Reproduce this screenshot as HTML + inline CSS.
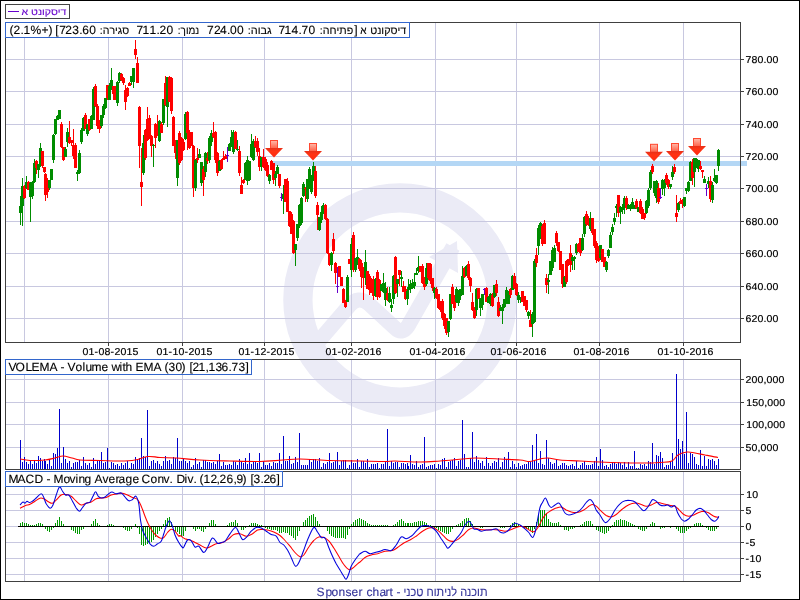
<!DOCTYPE html><html><head><meta charset="utf-8"><title>chart</title><style>
html,body{margin:0;padding:0;background:#fff;}body{width:800px;height:600px;overflow:hidden;position:relative;font-family:"Liberation Sans",sans-serif;}
svg{position:absolute;left:0;top:0;will-change:transform;}svg text{font-family:"Liberation Sans",sans-serif;font-kerning:none;text-rendering:geometricPrecision;}
.tb{position:absolute;box-sizing:border-box;border:1px solid #3366cc;background:#fff;font-size:12px;line-height:14px;white-space:nowrap;color:#000;overflow:hidden;}
</style></head><body>
<svg width="800" height="600" viewBox="0 0 800 600">
<rect x="0" y="0" width="800" height="600" fill="#fff"/>
<g fill="none" stroke="#ebebf6">
<circle cx="400" cy="300" r="102.1" stroke-width="29.3"/>
<path d="M318,342 L349,306 Q358,295 369,304 L395,328 Q402,335 408,326 L453,247" stroke-width="15" stroke-linejoin="round" stroke-linecap="butt"/>
<path d="M457,241 L458,273 L429,257 Z" fill="#ebebf6" stroke="none"/>
</g>
<g shape-rendering="crispEdges">
<rect x="24" y="22" width="1" height="320" fill="#c8c8e0"/>
<rect x="108" y="22" width="1" height="320" fill="#c8c8e0"/>
<rect x="182" y="22" width="1" height="320" fill="#c8c8e0"/>
<rect x="264" y="22" width="1" height="320" fill="#c8c8e0"/>
<rect x="351" y="22" width="1" height="320" fill="#c8c8e0"/>
<rect x="435" y="22" width="1" height="320" fill="#c8c8e0"/>
<rect x="516" y="22" width="1" height="320" fill="#c8c8e0"/>
<rect x="599" y="22" width="1" height="320" fill="#c8c8e0"/>
<rect x="683" y="22" width="1" height="320" fill="#c8c8e0"/>
<rect x="5" y="59" width="735" height="1" fill="#c8c8e0"/>
<rect x="5" y="91" width="735" height="1" fill="#c8c8e0"/>
<rect x="5" y="124" width="735" height="1" fill="#c8c8e0"/>
<rect x="5" y="156" width="735" height="1" fill="#c8c8e0"/>
<rect x="5" y="188" width="735" height="1" fill="#c8c8e0"/>
<rect x="5" y="221" width="735" height="1" fill="#c8c8e0"/>
<rect x="5" y="253" width="735" height="1" fill="#c8c8e0"/>
<rect x="5" y="286" width="735" height="1" fill="#c8c8e0"/>
<rect x="5" y="318" width="735" height="1" fill="#c8c8e0"/>
</g>
<g shape-rendering="crispEdges">
<rect x="24" y="359" width="1" height="110" fill="#c8c8e0"/>
<rect x="108" y="359" width="1" height="110" fill="#c8c8e0"/>
<rect x="182" y="359" width="1" height="110" fill="#c8c8e0"/>
<rect x="264" y="359" width="1" height="110" fill="#c8c8e0"/>
<rect x="351" y="359" width="1" height="110" fill="#c8c8e0"/>
<rect x="435" y="359" width="1" height="110" fill="#c8c8e0"/>
<rect x="516" y="359" width="1" height="110" fill="#c8c8e0"/>
<rect x="599" y="359" width="1" height="110" fill="#c8c8e0"/>
<rect x="683" y="359" width="1" height="110" fill="#c8c8e0"/>
<rect x="5" y="379" width="735" height="1" fill="#c8c8e0"/>
<rect x="5" y="402" width="735" height="1" fill="#c8c8e0"/>
<rect x="5" y="424" width="735" height="1" fill="#c8c8e0"/>
<rect x="5" y="447" width="735" height="1" fill="#c8c8e0"/>
</g>
<g shape-rendering="crispEdges">
<rect x="24" y="471" width="1" height="110" fill="#c8c8e0"/>
<rect x="108" y="471" width="1" height="110" fill="#c8c8e0"/>
<rect x="182" y="471" width="1" height="110" fill="#c8c8e0"/>
<rect x="264" y="471" width="1" height="110" fill="#c8c8e0"/>
<rect x="351" y="471" width="1" height="110" fill="#c8c8e0"/>
<rect x="435" y="471" width="1" height="110" fill="#c8c8e0"/>
<rect x="516" y="471" width="1" height="110" fill="#c8c8e0"/>
<rect x="599" y="471" width="1" height="110" fill="#c8c8e0"/>
<rect x="683" y="471" width="1" height="110" fill="#c8c8e0"/>
<rect x="5" y="494" width="735" height="1" fill="#c8c8e0"/>
<rect x="5" y="510" width="735" height="1" fill="#c8c8e0"/>
<rect x="5" y="526" width="735" height="1" fill="#c8c8e0"/>
<rect x="5" y="542" width="735" height="1" fill="#c8c8e0"/>
<rect x="5" y="558" width="735" height="1" fill="#c8c8e0"/>
<rect x="5" y="574" width="735" height="1" fill="#c8c8e0"/>
</g>
<rect x="270" y="161" width="477" height="5" fill="#b4d7f5" shape-rendering="crispEdges"/>
<g shape-rendering="crispEdges">
<rect x="20" y="196.0" width="1" height="29.0" fill="#008c00"/>
<rect x="19" y="206.0" width="3" height="7.0" fill="#008c00"/>
<rect x="22" y="178.0" width="1" height="48.0" fill="#008c00"/>
<rect x="21" y="185.6" width="3" height="20.4" fill="#008c00"/>
<rect x="24" y="185.0" width="1" height="14.0" fill="#ff0000"/>
<rect x="23" y="186.0" width="3" height="12.0" fill="#ff0000"/>
<rect x="26" y="176.0" width="1" height="13.0" fill="#008c00"/>
<rect x="25" y="182.0" width="3" height="6.0" fill="#008c00"/>
<rect x="28" y="181.0" width="1" height="9.0" fill="#ff0000"/>
<rect x="27" y="182.0" width="3" height="8.0" fill="#ff0000"/>
<rect x="30" y="182.0" width="1" height="40.0" fill="#008c00"/>
<rect x="29" y="183.0" width="3" height="14.0" fill="#008c00"/>
<rect x="32" y="181.0" width="1" height="18.0" fill="#008c00"/>
<rect x="31" y="182.0" width="3" height="14.0" fill="#008c00"/>
<rect x="34" y="159.0" width="1" height="24.0" fill="#008c00"/>
<rect x="33" y="163.0" width="3" height="19.0" fill="#008c00"/>
<rect x="36" y="160.0" width="1" height="14.0" fill="#ff0000"/>
<rect x="35" y="161.0" width="3" height="7.0" fill="#ff0000"/>
<rect x="38" y="164.0" width="1" height="14.0" fill="#008c00"/>
<rect x="37" y="164.0" width="3" height="6.0" fill="#008c00"/>
<rect x="40" y="143.0" width="1" height="24.0" fill="#008c00"/>
<rect x="39" y="148.0" width="3" height="18.0" fill="#008c00"/>
<rect x="42" y="151.0" width="1" height="17.0" fill="#ff0000"/>
<rect x="41" y="151.0" width="3" height="15.0" fill="#ff0000"/>
<rect x="44" y="167.0" width="1" height="6.0" fill="#ff0000"/>
<rect x="43" y="167.0" width="3" height="5.0" fill="#ff0000"/>
<rect x="45" y="173.0" width="1" height="28.0" fill="#ff0000"/>
<rect x="44" y="174.0" width="3" height="21.0" fill="#ff0000"/>
<rect x="47" y="178.0" width="1" height="20.0" fill="#ff0000"/>
<rect x="46" y="180.0" width="3" height="12.0" fill="#ff0000"/>
<rect x="49" y="180.0" width="1" height="10.0" fill="#008c00"/>
<rect x="48" y="180.0" width="3" height="8.0" fill="#008c00"/>
<rect x="51" y="169.0" width="1" height="11.0" fill="#008c00"/>
<rect x="50" y="169.0" width="3" height="11.0" fill="#008c00"/>
<rect x="53" y="134.0" width="1" height="29.0" fill="#008c00"/>
<rect x="52" y="135.0" width="3" height="25.0" fill="#008c00"/>
<rect x="55" y="119.0" width="1" height="16.0" fill="#008c00"/>
<rect x="54" y="119.0" width="3" height="15.0" fill="#008c00"/>
<rect x="57" y="115.0" width="1" height="5.0" fill="#008c00"/>
<rect x="56" y="116.0" width="3" height="4.0" fill="#008c00"/>
<rect x="59" y="110.0" width="1" height="9.0" fill="#008c00"/>
<rect x="58" y="110.0" width="3" height="9.0" fill="#008c00"/>
<rect x="61" y="122.0" width="1" height="26.0" fill="#ff0000"/>
<rect x="60" y="124.0" width="3" height="23.0" fill="#ff0000"/>
<rect x="63" y="147.0" width="1" height="14.0" fill="#ff0000"/>
<rect x="62" y="147.0" width="3" height="13.0" fill="#ff0000"/>
<rect x="65" y="147.0" width="1" height="10.0" fill="#008c00"/>
<rect x="64" y="149.0" width="3" height="8.0" fill="#008c00"/>
<rect x="67" y="128.0" width="1" height="19.0" fill="#008c00"/>
<rect x="66" y="132.0" width="3" height="10.0" fill="#008c00"/>
<rect x="69" y="121.0" width="1" height="23.0" fill="#ff0000"/>
<rect x="68" y="137.0" width="3" height="6.0" fill="#ff0000"/>
<rect x="71" y="140.0" width="1" height="6.0" fill="#ff0000"/>
<rect x="70" y="140.0" width="3" height="3.0" fill="#ff0000"/>
<rect x="73" y="129.0" width="1" height="30.0" fill="#ff0000"/>
<rect x="72" y="145.0" width="3" height="11.0" fill="#ff0000"/>
<rect x="75" y="143.0" width="1" height="25.0" fill="#ff0000"/>
<rect x="74" y="145.0" width="3" height="23.0" fill="#ff0000"/>
<rect x="77" y="170.0" width="1" height="11.0" fill="#008c00"/>
<rect x="76" y="172.0" width="3" height="2.0" fill="#008c00"/>
<rect x="79" y="150.0" width="1" height="24.0" fill="#008c00"/>
<rect x="78" y="153.0" width="3" height="20.0" fill="#008c00"/>
<rect x="81" y="128.0" width="1" height="16.0" fill="#008c00"/>
<rect x="80" y="130.0" width="3" height="12.0" fill="#008c00"/>
<rect x="83" y="117.0" width="1" height="14.0" fill="#008c00"/>
<rect x="82" y="118.0" width="3" height="13.0" fill="#008c00"/>
<rect x="85" y="113.0" width="1" height="16.0" fill="#ff0000"/>
<rect x="84" y="115.0" width="3" height="14.0" fill="#ff0000"/>
<rect x="87" y="124.0" width="1" height="12.0" fill="#008c00"/>
<rect x="86" y="124.0" width="3" height="10.0" fill="#008c00"/>
<rect x="89" y="119.0" width="1" height="12.0" fill="#ff0000"/>
<rect x="88" y="119.0" width="3" height="11.0" fill="#ff0000"/>
<rect x="91" y="115.0" width="1" height="14.0" fill="#008c00"/>
<rect x="90" y="116.0" width="3" height="13.0" fill="#008c00"/>
<rect x="93" y="87.0" width="1" height="33.0" fill="#008c00"/>
<rect x="92" y="89.0" width="3" height="31.0" fill="#008c00"/>
<rect x="95" y="84.0" width="1" height="23.0" fill="#ff0000"/>
<rect x="94" y="86.0" width="3" height="20.0" fill="#ff0000"/>
<rect x="97" y="104.0" width="1" height="25.0" fill="#ff0000"/>
<rect x="96" y="106.0" width="3" height="20.0" fill="#ff0000"/>
<rect x="99" y="120.0" width="1" height="13.0" fill="#ff0000"/>
<rect x="98" y="120.0" width="3" height="9.0" fill="#ff0000"/>
<rect x="101" y="115.0" width="1" height="13.0" fill="#008c00"/>
<rect x="100" y="115.0" width="3" height="11.0" fill="#008c00"/>
<rect x="103" y="104.0" width="1" height="14.0" fill="#008c00"/>
<rect x="102" y="106.0" width="3" height="9.0" fill="#008c00"/>
<rect x="105" y="98.0" width="1" height="11.0" fill="#008c00"/>
<rect x="104" y="98.0" width="3" height="10.0" fill="#008c00"/>
<rect x="107" y="85.0" width="1" height="15.0" fill="#ff0000"/>
<rect x="106" y="85.0" width="3" height="13.0" fill="#ff0000"/>
<rect x="109" y="83.0" width="1" height="17.0" fill="#008c00"/>
<rect x="108" y="86.0" width="3" height="14.0" fill="#008c00"/>
<rect x="111" y="68.0" width="1" height="22.0" fill="#008c00"/>
<rect x="110" y="80.0" width="3" height="8.0" fill="#008c00"/>
<rect x="113" y="86.0" width="1" height="14.0" fill="#ff0000"/>
<rect x="112" y="86.0" width="3" height="8.0" fill="#ff0000"/>
<rect x="115" y="86.0" width="1" height="14.0" fill="#ff0000"/>
<rect x="114" y="88.0" width="3" height="12.0" fill="#ff0000"/>
<rect x="117" y="81.0" width="1" height="25.0" fill="#008c00"/>
<rect x="116" y="82.0" width="3" height="21.0" fill="#008c00"/>
<rect x="119" y="71.6" width="1" height="11.4" fill="#008c00"/>
<rect x="118" y="73.0" width="3" height="8.0" fill="#008c00"/>
<rect x="121" y="73.0" width="1" height="8.0" fill="#ff0000"/>
<rect x="120" y="74.0" width="3" height="6.0" fill="#ff0000"/>
<rect x="123" y="77.0" width="1" height="8.0" fill="#ff0000"/>
<rect x="122" y="78.0" width="3" height="5.0" fill="#ff0000"/>
<rect x="125" y="85.0" width="1" height="25.0" fill="#ff0000"/>
<rect x="124" y="90.0" width="3" height="12.0" fill="#ff0000"/>
<rect x="127" y="87.0" width="1" height="10.0" fill="#ff0000"/>
<rect x="126" y="88.0" width="3" height="8.0" fill="#ff0000"/>
<rect x="129" y="82.0" width="1" height="4.0" fill="#ff0000"/>
<rect x="128" y="83.0" width="3" height="3.0" fill="#ff0000"/>
<rect x="131" y="76.0" width="1" height="9.0" fill="#008c00"/>
<rect x="130" y="76.0" width="3" height="6.0" fill="#008c00"/>
<rect x="133" y="68.0" width="1" height="19.6" fill="#008c00"/>
<rect x="132" y="68.0" width="3" height="14.0" fill="#008c00"/>
<rect x="135" y="40.0" width="1" height="19.0" fill="#ff0000"/>
<rect x="134" y="49.0" width="3" height="6.0" fill="#ff0000"/>
<rect x="137" y="57.0" width="1" height="26.0" fill="#ff0000"/>
<rect x="136" y="63.0" width="3" height="20.0" fill="#ff0000"/>
<rect x="139" y="106.0" width="1" height="62.0" fill="#ff0000"/>
<rect x="138" y="107.0" width="3" height="39.0" fill="#ff0000"/>
<rect x="141" y="148.0" width="1" height="58.0" fill="#ff0000"/>
<rect x="140" y="182.0" width="3" height="5.0" fill="#ff0000"/>
<rect x="143" y="135.0" width="1" height="40.0" fill="#008c00"/>
<rect x="142" y="143.0" width="3" height="30.0" fill="#008c00"/>
<rect x="145" y="128.5" width="1" height="31.5" fill="#ff0000"/>
<rect x="144" y="129.5" width="3" height="28.5" fill="#ff0000"/>
<rect x="147" y="107.0" width="1" height="34.0" fill="#ff0000"/>
<rect x="146" y="119.0" width="3" height="21.0" fill="#ff0000"/>
<rect x="149" y="115.0" width="1" height="24.0" fill="#ff0000"/>
<rect x="148" y="118.0" width="3" height="20.0" fill="#ff0000"/>
<rect x="151" y="135.0" width="1" height="22.0" fill="#ff0000"/>
<rect x="150" y="136.0" width="3" height="10.0" fill="#ff0000"/>
<rect x="153" y="144.0" width="1" height="23.0" fill="#008c00"/>
<rect x="152" y="145.0" width="3" height="1.0" fill="#008c00"/>
<rect x="155" y="123.0" width="1" height="25.0" fill="#ff0000"/>
<rect x="154" y="124.0" width="3" height="14.0" fill="#ff0000"/>
<rect x="157" y="115.0" width="1" height="21.0" fill="#ff0000"/>
<rect x="156" y="126.0" width="3" height="7.0" fill="#ff0000"/>
<rect x="159" y="120.0" width="1" height="22.0" fill="#008c00"/>
<rect x="158" y="121.0" width="3" height="20.0" fill="#008c00"/>
<rect x="161" y="122.0" width="1" height="11.0" fill="#ff0000"/>
<rect x="160" y="124.0" width="3" height="9.0" fill="#ff0000"/>
<rect x="163" y="99.0" width="1" height="26.0" fill="#008c00"/>
<rect x="162" y="99.0" width="3" height="24.0" fill="#008c00"/>
<rect x="165" y="75.6" width="1" height="30.4" fill="#ff0000"/>
<rect x="164" y="83.0" width="3" height="22.0" fill="#ff0000"/>
<rect x="167" y="77.0" width="1" height="50.0" fill="#008c00"/>
<rect x="166" y="77.0" width="3" height="30.0" fill="#008c00"/>
<rect x="169" y="76.0" width="1" height="26.0" fill="#ff0000"/>
<rect x="168" y="77.0" width="3" height="25.0" fill="#ff0000"/>
<rect x="171" y="77.0" width="1" height="36.6" fill="#ff0000"/>
<rect x="170" y="78.0" width="3" height="33.0" fill="#ff0000"/>
<rect x="173" y="116.0" width="1" height="30.0" fill="#ff0000"/>
<rect x="172" y="117.0" width="3" height="29.0" fill="#ff0000"/>
<rect x="175" y="140.0" width="1" height="19.0" fill="#ff0000"/>
<rect x="174" y="143.0" width="3" height="10.0" fill="#ff0000"/>
<rect x="177" y="140.0" width="1" height="45.6" fill="#008c00"/>
<rect x="176" y="140.0" width="3" height="38.0" fill="#008c00"/>
<rect x="179" y="131.0" width="1" height="34.0" fill="#ff0000"/>
<rect x="178" y="133.0" width="3" height="30.0" fill="#ff0000"/>
<rect x="181" y="137.0" width="1" height="24.0" fill="#ff0000"/>
<rect x="180" y="138.0" width="3" height="22.0" fill="#ff0000"/>
<rect x="183" y="139.0" width="1" height="12.0" fill="#ff0000"/>
<rect x="182" y="142.0" width="3" height="8.0" fill="#ff0000"/>
<rect x="185" y="112.0" width="1" height="28.0" fill="#008c00"/>
<rect x="184" y="114.0" width="3" height="25.0" fill="#008c00"/>
<rect x="187" y="110.6" width="1" height="39.4" fill="#ff0000"/>
<rect x="186" y="112.0" width="3" height="21.0" fill="#ff0000"/>
<rect x="189" y="130.0" width="1" height="19.0" fill="#ff0000"/>
<rect x="188" y="132.0" width="3" height="16.0" fill="#ff0000"/>
<rect x="191" y="132.0" width="1" height="14.0" fill="#ff0000"/>
<rect x="190" y="132.0" width="3" height="14.0" fill="#ff0000"/>
<rect x="193" y="145.0" width="1" height="52.0" fill="#ff0000"/>
<rect x="192" y="146.0" width="3" height="42.0" fill="#ff0000"/>
<rect x="195" y="159.0" width="1" height="32.0" fill="#008c00"/>
<rect x="194" y="160.0" width="3" height="28.0" fill="#008c00"/>
<rect x="197" y="148.0" width="1" height="15.0" fill="#ff0000"/>
<rect x="196" y="158.0" width="3" height="2.0" fill="#ff0000"/>
<rect x="199" y="149.0" width="1" height="9.0" fill="#008c00"/>
<rect x="198" y="154.0" width="3" height="4.0" fill="#008c00"/>
<rect x="201" y="162.0" width="1" height="24.0" fill="#008c00"/>
<rect x="200" y="162.0" width="3" height="21.0" fill="#008c00"/>
<rect x="203" y="166.0" width="1" height="30.0" fill="#ff0000"/>
<rect x="202" y="169.0" width="3" height="11.0" fill="#ff0000"/>
<rect x="205" y="152.0" width="1" height="25.0" fill="#008c00"/>
<rect x="204" y="153.0" width="3" height="19.0" fill="#008c00"/>
<rect x="207" y="152.0" width="1" height="12.0" fill="#ff0000"/>
<rect x="206" y="158.0" width="3" height="3.0" fill="#ff0000"/>
<rect x="209" y="135.5" width="1" height="27.0" fill="#008c00"/>
<rect x="208" y="137.5" width="3" height="22.0" fill="#008c00"/>
<rect x="211" y="130.0" width="1" height="16.0" fill="#008c00"/>
<rect x="210" y="133.0" width="3" height="9.0" fill="#008c00"/>
<rect x="213" y="122.0" width="1" height="16.0" fill="#ff0000"/>
<rect x="212" y="133.0" width="3" height="4.0" fill="#ff0000"/>
<rect x="215" y="131.0" width="1" height="32.0" fill="#ff0000"/>
<rect x="214" y="132.0" width="3" height="28.0" fill="#ff0000"/>
<rect x="217" y="152.0" width="1" height="24.0" fill="#ff0000"/>
<rect x="216" y="153.0" width="3" height="20.0" fill="#ff0000"/>
<rect x="219" y="160.0" width="1" height="11.0" fill="#008c00"/>
<rect x="218" y="161.0" width="3" height="10.0" fill="#008c00"/>
<rect x="221" y="159.0" width="1" height="11.0" fill="#ff0000"/>
<rect x="220" y="160.0" width="3" height="9.0" fill="#ff0000"/>
<rect x="223" y="151.0" width="1" height="9.0" fill="#ff0000"/>
<rect x="222" y="158.0" width="3" height="2.0" fill="#ff0000"/>
<rect x="225" y="153.5" width="1" height="5.5" fill="#ff0000"/>
<rect x="224" y="155.5" width="3" height="3.5" fill="#ff0000"/>
<rect x="227" y="147.0" width="1" height="15.0" fill="#6600cc"/>
<rect x="226" y="155.0" width="3" height="1" fill="#6600cc"/>
<rect x="229" y="143.0" width="1" height="8.0" fill="#008c00"/>
<rect x="228" y="144.0" width="3" height="7.0" fill="#008c00"/>
<rect x="231" y="130.0" width="1" height="17.0" fill="#008c00"/>
<rect x="230" y="137.0" width="3" height="10.0" fill="#008c00"/>
<rect x="233" y="130.0" width="1" height="24.0" fill="#008c00"/>
<rect x="232" y="132.0" width="3" height="20.0" fill="#008c00"/>
<rect x="235" y="131.0" width="1" height="18.0" fill="#ff0000"/>
<rect x="234" y="132.0" width="3" height="17.0" fill="#ff0000"/>
<rect x="237" y="140.0" width="1" height="11.0" fill="#008c00"/>
<rect x="236" y="149.0" width="3" height="1.0" fill="#008c00"/>
<rect x="239" y="146.0" width="1" height="30.0" fill="#ff0000"/>
<rect x="238" y="151.0" width="3" height="22.0" fill="#ff0000"/>
<rect x="241" y="177.0" width="1" height="17.0" fill="#ff0000"/>
<rect x="240" y="185.0" width="3" height="9.0" fill="#ff0000"/>
<rect x="243" y="179.0" width="1" height="5.0" fill="#ff0000"/>
<rect x="242" y="180.0" width="3" height="3.0" fill="#ff0000"/>
<rect x="245" y="162.0" width="1" height="18.0" fill="#008c00"/>
<rect x="244" y="163.0" width="3" height="17.0" fill="#008c00"/>
<rect x="247" y="156.0" width="1" height="29.0" fill="#008c00"/>
<rect x="246" y="160.0" width="3" height="21.0" fill="#008c00"/>
<rect x="249" y="161.0" width="1" height="20.0" fill="#008c00"/>
<rect x="248" y="161.0" width="3" height="19.0" fill="#008c00"/>
<rect x="251" y="134.0" width="1" height="24.0" fill="#008c00"/>
<rect x="250" y="144.0" width="3" height="13.0" fill="#008c00"/>
<rect x="253" y="139.0" width="1" height="22.0" fill="#008c00"/>
<rect x="252" y="141.0" width="3" height="19.0" fill="#008c00"/>
<rect x="255" y="136.0" width="1" height="12.0" fill="#ff0000"/>
<rect x="254" y="141.0" width="3" height="6.0" fill="#ff0000"/>
<rect x="257" y="138.0" width="1" height="18.0" fill="#ff0000"/>
<rect x="256" y="141.0" width="3" height="11.0" fill="#ff0000"/>
<rect x="259" y="148.0" width="1" height="23.0" fill="#ff0000"/>
<rect x="258" y="156.0" width="3" height="11.0" fill="#ff0000"/>
<rect x="261" y="157.0" width="1" height="14.0" fill="#008c00"/>
<rect x="260" y="157.0" width="3" height="10.0" fill="#008c00"/>
<rect x="263" y="149.0" width="1" height="19.0" fill="#ff0000"/>
<rect x="262" y="157.0" width="3" height="10.0" fill="#ff0000"/>
<rect x="265" y="157.0" width="1" height="14.0" fill="#ff0000"/>
<rect x="264" y="159.0" width="3" height="11.0" fill="#ff0000"/>
<rect x="267" y="162.0" width="1" height="15.0" fill="#ff0000"/>
<rect x="266" y="165.0" width="3" height="11.0" fill="#ff0000"/>
<rect x="269" y="174.0" width="1" height="10.0" fill="#008c00"/>
<rect x="268" y="175.0" width="3" height="6.0" fill="#008c00"/>
<rect x="271" y="160.0" width="1" height="10.0" fill="#ff0000"/>
<rect x="270" y="161.0" width="3" height="9.0" fill="#ff0000"/>
<rect x="273" y="163.0" width="1" height="21.0" fill="#ff0000"/>
<rect x="272" y="163.0" width="3" height="17.0" fill="#ff0000"/>
<rect x="275" y="171.0" width="1" height="15.0" fill="#008c00"/>
<rect x="274" y="174.0" width="3" height="4.0" fill="#008c00"/>
<rect x="277" y="165.0" width="1" height="9.0" fill="#008c00"/>
<rect x="276" y="167.0" width="3" height="7.0" fill="#008c00"/>
<rect x="279" y="174.0" width="1" height="14.0" fill="#ff0000"/>
<rect x="278" y="174.0" width="3" height="12.0" fill="#ff0000"/>
<rect x="281" y="193.0" width="1" height="8.0" fill="#6600cc"/>
<rect x="280" y="197.0" width="3" height="1" fill="#6600cc"/>
<rect x="283" y="185.0" width="1" height="29.0" fill="#008c00"/>
<rect x="282" y="194.0" width="3" height="5.0" fill="#008c00"/>
<rect x="285" y="179.0" width="1" height="23.0" fill="#ff0000"/>
<rect x="284" y="179.0" width="3" height="23.0" fill="#ff0000"/>
<rect x="287" y="178.0" width="1" height="34.0" fill="#ff0000"/>
<rect x="286" y="181.0" width="3" height="31.0" fill="#ff0000"/>
<rect x="289" y="211.0" width="1" height="16.0" fill="#ff0000"/>
<rect x="288" y="211.0" width="3" height="15.0" fill="#ff0000"/>
<rect x="291" y="212.0" width="1" height="22.0" fill="#ff0000"/>
<rect x="290" y="214.0" width="3" height="20.0" fill="#ff0000"/>
<rect x="293" y="220.0" width="1" height="34.0" fill="#ff0000"/>
<rect x="292" y="221.0" width="3" height="32.0" fill="#ff0000"/>
<rect x="295" y="244.0" width="1" height="21.6" fill="#008c00"/>
<rect x="294" y="244.0" width="3" height="6.0" fill="#008c00"/>
<rect x="297" y="224.0" width="1" height="17.0" fill="#008c00"/>
<rect x="296" y="224.0" width="3" height="14.0" fill="#008c00"/>
<rect x="299" y="204.0" width="1" height="24.0" fill="#008c00"/>
<rect x="298" y="205.0" width="3" height="21.0" fill="#008c00"/>
<rect x="301" y="197.0" width="1" height="28.0" fill="#008c00"/>
<rect x="300" y="198.0" width="3" height="25.0" fill="#008c00"/>
<rect x="303" y="182.0" width="1" height="15.0" fill="#008c00"/>
<rect x="302" y="184.0" width="3" height="12.0" fill="#008c00"/>
<rect x="305" y="187.0" width="1" height="15.0" fill="#ff0000"/>
<rect x="304" y="188.0" width="3" height="1.0" fill="#ff0000"/>
<rect x="307" y="179.0" width="1" height="23.0" fill="#008c00"/>
<rect x="306" y="179.0" width="3" height="20.0" fill="#008c00"/>
<rect x="309" y="167.0" width="1" height="22.0" fill="#008c00"/>
<rect x="308" y="169.0" width="3" height="18.0" fill="#008c00"/>
<rect x="311" y="175.0" width="1" height="19.0" fill="#008c00"/>
<rect x="310" y="178.0" width="3" height="14.0" fill="#008c00"/>
<rect x="313" y="162.0" width="1" height="19.0" fill="#008c00"/>
<rect x="312" y="166.0" width="3" height="12.0" fill="#008c00"/>
<rect x="315" y="166.0" width="1" height="32.0" fill="#ff0000"/>
<rect x="314" y="171.0" width="3" height="25.0" fill="#ff0000"/>
<rect x="317" y="202.0" width="1" height="28.0" fill="#ff0000"/>
<rect x="316" y="205.0" width="3" height="10.0" fill="#ff0000"/>
<rect x="319" y="217.0" width="1" height="14.0" fill="#008c00"/>
<rect x="318" y="217.0" width="3" height="13.0" fill="#008c00"/>
<rect x="321" y="206.0" width="1" height="17.0" fill="#008c00"/>
<rect x="320" y="212.0" width="3" height="8.0" fill="#008c00"/>
<rect x="323" y="203.0" width="1" height="11.0" fill="#008c00"/>
<rect x="322" y="205.0" width="3" height="8.0" fill="#008c00"/>
<rect x="325" y="204.0" width="1" height="16.0" fill="#ff0000"/>
<rect x="324" y="205.0" width="3" height="14.0" fill="#ff0000"/>
<rect x="327" y="218.0" width="1" height="36.0" fill="#ff0000"/>
<rect x="326" y="219.0" width="3" height="34.0" fill="#ff0000"/>
<rect x="329" y="253.0" width="1" height="13.0" fill="#ff0000"/>
<rect x="328" y="253.0" width="3" height="12.0" fill="#ff0000"/>
<rect x="331" y="252.0" width="1" height="19.0" fill="#008c00"/>
<rect x="330" y="253.0" width="3" height="12.0" fill="#008c00"/>
<rect x="333" y="233.0" width="1" height="21.0" fill="#ff0000"/>
<rect x="332" y="239.0" width="3" height="12.0" fill="#ff0000"/>
<rect x="335" y="262.0" width="1" height="22.0" fill="#ff0000"/>
<rect x="334" y="263.0" width="3" height="10.0" fill="#ff0000"/>
<rect x="337" y="267.0" width="1" height="26.0" fill="#6600cc"/>
<rect x="336" y="286.0" width="3" height="1" fill="#6600cc"/>
<rect x="339" y="266.0" width="1" height="11.0" fill="#ff0000"/>
<rect x="338" y="266.0" width="3" height="11.0" fill="#ff0000"/>
<rect x="341" y="277.0" width="1" height="9.0" fill="#ff0000"/>
<rect x="340" y="277.0" width="3" height="9.0" fill="#ff0000"/>
<rect x="343" y="288.0" width="1" height="15.0" fill="#ff0000"/>
<rect x="342" y="289.0" width="3" height="14.0" fill="#ff0000"/>
<rect x="345" y="300.0" width="1" height="8.0" fill="#ff0000"/>
<rect x="344" y="300.0" width="3" height="7.0" fill="#ff0000"/>
<rect x="347" y="275.0" width="1" height="27.0" fill="#008c00"/>
<rect x="346" y="277.0" width="3" height="25.0" fill="#008c00"/>
<rect x="349" y="259.0" width="1" height="5.0" fill="#ff0000"/>
<rect x="348" y="259.0" width="3" height="5.0" fill="#ff0000"/>
<rect x="351" y="238.0" width="1" height="39.0" fill="#008c00"/>
<rect x="350" y="244.0" width="3" height="26.0" fill="#008c00"/>
<rect x="353" y="232.0" width="1" height="40.0" fill="#ff0000"/>
<rect x="352" y="235.0" width="3" height="35.0" fill="#ff0000"/>
<rect x="355" y="258.0" width="1" height="14.0" fill="#008c00"/>
<rect x="354" y="258.0" width="3" height="12.0" fill="#008c00"/>
<rect x="357" y="249.0" width="1" height="16.0" fill="#008c00"/>
<rect x="356" y="257.0" width="3" height="8.0" fill="#008c00"/>
<rect x="359" y="258.0" width="1" height="13.0" fill="#ff0000"/>
<rect x="358" y="259.0" width="3" height="10.0" fill="#ff0000"/>
<rect x="361" y="260.0" width="1" height="28.0" fill="#ff0000"/>
<rect x="360" y="263.0" width="3" height="14.0" fill="#ff0000"/>
<rect x="363" y="267.0" width="1" height="33.0" fill="#ff0000"/>
<rect x="362" y="267.0" width="3" height="11.0" fill="#ff0000"/>
<rect x="365" y="250.0" width="1" height="35.0" fill="#008c00"/>
<rect x="364" y="262.0" width="3" height="16.0" fill="#008c00"/>
<rect x="367" y="271.0" width="1" height="18.0" fill="#ff0000"/>
<rect x="366" y="271.0" width="3" height="18.0" fill="#ff0000"/>
<rect x="369" y="274.0" width="1" height="21.0" fill="#ff0000"/>
<rect x="368" y="276.0" width="3" height="14.0" fill="#ff0000"/>
<rect x="371" y="278.0" width="1" height="15.0" fill="#ff0000"/>
<rect x="370" y="279.0" width="3" height="14.0" fill="#ff0000"/>
<rect x="373" y="276.0" width="1" height="24.0" fill="#ff0000"/>
<rect x="372" y="279.0" width="3" height="17.0" fill="#ff0000"/>
<rect x="375" y="278.0" width="1" height="19.0" fill="#008c00"/>
<rect x="374" y="279.0" width="3" height="17.0" fill="#008c00"/>
<rect x="377" y="270.0" width="1" height="30.0" fill="#ff0000"/>
<rect x="376" y="272.0" width="3" height="25.0" fill="#ff0000"/>
<rect x="379" y="279.0" width="1" height="19.0" fill="#ff0000"/>
<rect x="378" y="280.0" width="3" height="17.0" fill="#ff0000"/>
<rect x="381" y="284.0" width="1" height="7.0" fill="#008c00"/>
<rect x="380" y="284.0" width="3" height="7.0" fill="#008c00"/>
<rect x="383" y="273.0" width="1" height="20.0" fill="#008c00"/>
<rect x="382" y="283.0" width="3" height="9.0" fill="#008c00"/>
<rect x="385" y="282.0" width="1" height="24.0" fill="#008c00"/>
<rect x="384" y="288.0" width="3" height="12.0" fill="#008c00"/>
<rect x="387" y="287.0" width="1" height="14.0" fill="#ff0000"/>
<rect x="386" y="293.0" width="3" height="7.0" fill="#ff0000"/>
<rect x="389" y="287.0" width="1" height="16.0" fill="#008c00"/>
<rect x="388" y="293.0" width="3" height="9.0" fill="#008c00"/>
<rect x="391" y="299.0" width="1" height="13.0" fill="#008c00"/>
<rect x="390" y="305.0" width="3" height="3.0" fill="#008c00"/>
<rect x="393" y="275.0" width="1" height="29.0" fill="#008c00"/>
<rect x="392" y="276.0" width="3" height="23.0" fill="#008c00"/>
<rect x="395" y="256.0" width="1" height="38.0" fill="#ff0000"/>
<rect x="394" y="257.0" width="3" height="36.0" fill="#ff0000"/>
<rect x="397" y="279.0" width="1" height="18.0" fill="#008c00"/>
<rect x="396" y="279.0" width="3" height="5.0" fill="#008c00"/>
<rect x="399" y="270.0" width="1" height="16.0" fill="#ff0000"/>
<rect x="398" y="270.0" width="3" height="5.0" fill="#ff0000"/>
<rect x="401" y="271.0" width="1" height="16.0" fill="#008c00"/>
<rect x="400" y="277.0" width="3" height="2.0" fill="#008c00"/>
<rect x="403" y="281.0" width="1" height="11.0" fill="#ff0000"/>
<rect x="402" y="286.0" width="3" height="6.0" fill="#ff0000"/>
<rect x="405" y="286.0" width="1" height="14.0" fill="#ff0000"/>
<rect x="404" y="289.0" width="3" height="10.0" fill="#ff0000"/>
<rect x="407" y="288.0" width="1" height="17.0" fill="#008c00"/>
<rect x="406" y="291.0" width="3" height="8.0" fill="#008c00"/>
<rect x="408" y="279.0" width="1" height="12.0" fill="#008c00"/>
<rect x="407" y="287.0" width="3" height="3.0" fill="#008c00"/>
<rect x="410" y="280.0" width="1" height="13.0" fill="#008c00"/>
<rect x="409" y="284.0" width="3" height="5.0" fill="#008c00"/>
<rect x="412" y="279.0" width="1" height="10.0" fill="#008c00"/>
<rect x="411" y="283.0" width="3" height="5.0" fill="#008c00"/>
<rect x="414" y="273.0" width="1" height="16.0" fill="#008c00"/>
<rect x="413" y="282.0" width="3" height="4.0" fill="#008c00"/>
<rect x="416" y="268.0" width="1" height="7.0" fill="#008c00"/>
<rect x="415" y="273.0" width="3" height="2.0" fill="#008c00"/>
<rect x="418" y="256.0" width="1" height="17.0" fill="#008c00"/>
<rect x="417" y="267.0" width="3" height="4.0" fill="#008c00"/>
<rect x="420" y="266.0" width="1" height="6.0" fill="#ff0000"/>
<rect x="419" y="266.0" width="3" height="6.0" fill="#ff0000"/>
<rect x="422" y="264.0" width="1" height="20.0" fill="#ff0000"/>
<rect x="421" y="266.0" width="3" height="17.0" fill="#ff0000"/>
<rect x="424" y="277.0" width="1" height="13.0" fill="#ff0000"/>
<rect x="423" y="277.0" width="3" height="10.0" fill="#ff0000"/>
<rect x="426" y="263.0" width="1" height="23.0" fill="#008c00"/>
<rect x="425" y="268.0" width="3" height="16.0" fill="#008c00"/>
<rect x="428" y="263.0" width="1" height="17.0" fill="#ff0000"/>
<rect x="427" y="263.0" width="3" height="15.0" fill="#ff0000"/>
<rect x="430" y="263.0" width="1" height="21.0" fill="#ff0000"/>
<rect x="429" y="264.0" width="3" height="17.0" fill="#ff0000"/>
<rect x="432" y="278.0" width="1" height="13.0" fill="#ff0000"/>
<rect x="431" y="278.0" width="3" height="10.0" fill="#ff0000"/>
<rect x="434" y="287.0" width="1" height="12.0" fill="#008c00"/>
<rect x="433" y="288.0" width="3" height="5.0" fill="#008c00"/>
<rect x="436" y="287.0" width="1" height="12.0" fill="#ff0000"/>
<rect x="435" y="289.0" width="3" height="9.0" fill="#ff0000"/>
<rect x="438" y="294.0" width="1" height="15.0" fill="#ff0000"/>
<rect x="437" y="294.0" width="3" height="14.0" fill="#ff0000"/>
<rect x="440" y="301.0" width="1" height="10.5" fill="#ff0000"/>
<rect x="439" y="301.0" width="3" height="8.5" fill="#ff0000"/>
<rect x="442" y="299.0" width="1" height="21.0" fill="#ff0000"/>
<rect x="441" y="301.0" width="3" height="17.0" fill="#ff0000"/>
<rect x="444" y="313.0" width="1" height="16.0" fill="#ff0000"/>
<rect x="443" y="314.0" width="3" height="12.0" fill="#ff0000"/>
<rect x="446" y="318.0" width="1" height="17.0" fill="#ff0000"/>
<rect x="445" y="318.0" width="3" height="15.0" fill="#ff0000"/>
<rect x="448" y="321.0" width="1" height="15.6" fill="#008c00"/>
<rect x="447" y="321.0" width="3" height="11.0" fill="#008c00"/>
<rect x="450" y="294.0" width="1" height="26.0" fill="#008c00"/>
<rect x="449" y="294.0" width="3" height="25.0" fill="#008c00"/>
<rect x="452" y="284.0" width="1" height="20.0" fill="#ff0000"/>
<rect x="451" y="287.0" width="3" height="17.0" fill="#ff0000"/>
<rect x="454" y="295.0" width="1" height="16.0" fill="#ff0000"/>
<rect x="453" y="295.0" width="3" height="13.0" fill="#ff0000"/>
<rect x="456" y="287.0" width="1" height="16.0" fill="#008c00"/>
<rect x="455" y="289.0" width="3" height="13.0" fill="#008c00"/>
<rect x="458" y="290.0" width="1" height="16.0" fill="#008c00"/>
<rect x="457" y="291.0" width="3" height="12.0" fill="#008c00"/>
<rect x="460" y="289.0" width="1" height="11.0" fill="#008c00"/>
<rect x="459" y="289.0" width="3" height="7.0" fill="#008c00"/>
<rect x="462" y="266.0" width="1" height="29.0" fill="#008c00"/>
<rect x="461" y="276.0" width="3" height="19.0" fill="#008c00"/>
<rect x="464" y="267.0" width="1" height="11.0" fill="#ff0000"/>
<rect x="463" y="268.0" width="3" height="9.0" fill="#ff0000"/>
<rect x="466" y="265.0" width="1" height="11.0" fill="#008c00"/>
<rect x="465" y="266.0" width="3" height="10.0" fill="#008c00"/>
<rect x="468" y="261.0" width="1" height="19.0" fill="#ff0000"/>
<rect x="467" y="264.0" width="3" height="14.0" fill="#ff0000"/>
<rect x="470" y="277.0" width="1" height="15.0" fill="#ff0000"/>
<rect x="469" y="278.0" width="3" height="8.0" fill="#ff0000"/>
<rect x="472" y="293.0" width="1" height="18.0" fill="#ff0000"/>
<rect x="471" y="302.0" width="3" height="8.0" fill="#ff0000"/>
<rect x="474" y="307.0" width="1" height="12.0" fill="#ff0000"/>
<rect x="473" y="310.0" width="3" height="8.0" fill="#ff0000"/>
<rect x="476" y="288.0" width="1" height="28.0" fill="#008c00"/>
<rect x="475" y="289.0" width="3" height="21.0" fill="#008c00"/>
<rect x="478" y="288.0" width="1" height="11.0" fill="#ff0000"/>
<rect x="477" y="288.0" width="3" height="11.0" fill="#ff0000"/>
<rect x="480" y="298.0" width="1" height="18.0" fill="#008c00"/>
<rect x="479" y="298.0" width="3" height="10.0" fill="#008c00"/>
<rect x="482" y="294.0" width="1" height="16.0" fill="#008c00"/>
<rect x="481" y="294.0" width="3" height="11.0" fill="#008c00"/>
<rect x="484" y="288.0" width="1" height="7.0" fill="#6600cc"/>
<rect x="483" y="289.0" width="3" height="1" fill="#6600cc"/>
<rect x="486" y="287.0" width="1" height="15.0" fill="#ff0000"/>
<rect x="485" y="288.0" width="3" height="14.0" fill="#ff0000"/>
<rect x="488" y="296.0" width="1" height="7.0" fill="#008c00"/>
<rect x="487" y="297.0" width="3" height="6.0" fill="#008c00"/>
<rect x="490" y="293.0" width="1" height="13.0" fill="#008c00"/>
<rect x="489" y="294.0" width="3" height="10.0" fill="#008c00"/>
<rect x="492" y="293.0" width="1" height="14.0" fill="#ff0000"/>
<rect x="491" y="295.0" width="3" height="11.0" fill="#ff0000"/>
<rect x="494" y="285.0" width="1" height="13.0" fill="#008c00"/>
<rect x="493" y="285.0" width="3" height="12.0" fill="#008c00"/>
<rect x="496" y="280.0" width="1" height="16.0" fill="#ff0000"/>
<rect x="495" y="284.0" width="3" height="9.0" fill="#ff0000"/>
<rect x="498" y="297.0" width="1" height="20.0" fill="#ff0000"/>
<rect x="497" y="302.0" width="3" height="14.0" fill="#ff0000"/>
<rect x="500" y="305.0" width="1" height="6.0" fill="#008c00"/>
<rect x="499" y="308.0" width="3" height="3.0" fill="#008c00"/>
<rect x="502" y="304.0" width="1" height="20.0" fill="#008c00"/>
<rect x="501" y="307.0" width="3" height="4.0" fill="#008c00"/>
<rect x="504" y="299.0" width="1" height="9.0" fill="#008c00"/>
<rect x="503" y="299.0" width="3" height="8.0" fill="#008c00"/>
<rect x="506" y="287.0" width="1" height="17.0" fill="#008c00"/>
<rect x="505" y="290.0" width="3" height="14.0" fill="#008c00"/>
<rect x="508" y="291.0" width="1" height="13.0" fill="#008c00"/>
<rect x="507" y="292.0" width="3" height="12.0" fill="#008c00"/>
<rect x="510" y="288.0" width="1" height="10.0" fill="#ff0000"/>
<rect x="509" y="289.0" width="3" height="6.0" fill="#ff0000"/>
<rect x="512" y="275.0" width="1" height="15.0" fill="#008c00"/>
<rect x="511" y="276.0" width="3" height="14.0" fill="#008c00"/>
<rect x="514" y="273.0" width="1" height="16.0" fill="#ff0000"/>
<rect x="513" y="276.0" width="3" height="12.0" fill="#ff0000"/>
<rect x="516" y="283.0" width="1" height="13.0" fill="#ff0000"/>
<rect x="515" y="284.0" width="3" height="11.0" fill="#ff0000"/>
<rect x="518" y="292.0" width="1" height="11.0" fill="#008c00"/>
<rect x="517" y="295.0" width="3" height="5.0" fill="#008c00"/>
<rect x="520" y="297.0" width="1" height="6.0" fill="#008c00"/>
<rect x="519" y="297.0" width="3" height="3.0" fill="#008c00"/>
<rect x="522" y="291.0" width="1" height="11.0" fill="#ff0000"/>
<rect x="521" y="291.0" width="3" height="11.0" fill="#ff0000"/>
<rect x="524" y="296.0" width="1" height="10.0" fill="#ff0000"/>
<rect x="523" y="296.0" width="3" height="10.0" fill="#ff0000"/>
<rect x="526" y="300.0" width="1" height="12.0" fill="#ff0000"/>
<rect x="525" y="300.0" width="3" height="10.0" fill="#ff0000"/>
<rect x="528" y="311.0" width="1" height="8.0" fill="#008c00"/>
<rect x="527" y="312.0" width="3" height="4.0" fill="#008c00"/>
<rect x="530" y="310.0" width="1" height="17.0" fill="#ff0000"/>
<rect x="529" y="320.0" width="3" height="7.0" fill="#ff0000"/>
<rect x="532" y="312.0" width="1" height="25.0" fill="#008c00"/>
<rect x="531" y="314.0" width="3" height="10.0" fill="#008c00"/>
<rect x="534" y="259.0" width="1" height="64.0" fill="#008c00"/>
<rect x="533" y="261.0" width="3" height="61.0" fill="#008c00"/>
<rect x="536" y="248.0" width="1" height="19.0" fill="#ff0000"/>
<rect x="535" y="255.0" width="3" height="8.0" fill="#ff0000"/>
<rect x="538" y="225.0" width="1" height="30.0" fill="#008c00"/>
<rect x="537" y="228.0" width="3" height="18.0" fill="#008c00"/>
<rect x="540" y="222.0" width="1" height="17.0" fill="#008c00"/>
<rect x="539" y="223.0" width="3" height="16.0" fill="#008c00"/>
<rect x="542" y="224.0" width="1" height="22.0" fill="#ff0000"/>
<rect x="541" y="226.0" width="3" height="18.0" fill="#ff0000"/>
<rect x="544" y="220.0" width="1" height="24.0" fill="#ff0000"/>
<rect x="543" y="223.0" width="3" height="21.0" fill="#ff0000"/>
<rect x="546" y="274.0" width="1" height="19.0" fill="#ff0000"/>
<rect x="545" y="278.0" width="3" height="7.0" fill="#ff0000"/>
<rect x="548" y="274.0" width="1" height="20.0" fill="#008c00"/>
<rect x="547" y="280.0" width="3" height="2.0" fill="#008c00"/>
<rect x="550" y="261.0" width="1" height="14.0" fill="#008c00"/>
<rect x="549" y="261.0" width="3" height="14.0" fill="#008c00"/>
<rect x="552" y="247.0" width="1" height="24.0" fill="#008c00"/>
<rect x="551" y="250.0" width="3" height="18.0" fill="#008c00"/>
<rect x="554" y="245.0" width="1" height="17.0" fill="#008c00"/>
<rect x="553" y="248.0" width="3" height="14.0" fill="#008c00"/>
<rect x="556" y="231.0" width="1" height="15.0" fill="#ff0000"/>
<rect x="555" y="233.0" width="3" height="10.0" fill="#ff0000"/>
<rect x="558" y="242.0" width="1" height="10.0" fill="#ff0000"/>
<rect x="557" y="242.0" width="3" height="9.0" fill="#ff0000"/>
<rect x="560" y="251.0" width="1" height="19.0" fill="#ff0000"/>
<rect x="559" y="251.0" width="3" height="19.0" fill="#ff0000"/>
<rect x="562" y="264.0" width="1" height="24.0" fill="#ff0000"/>
<rect x="561" y="264.0" width="3" height="20.0" fill="#ff0000"/>
<rect x="564" y="276.0" width="1" height="11.0" fill="#008c00"/>
<rect x="563" y="277.0" width="3" height="10.0" fill="#008c00"/>
<rect x="566" y="259.5" width="1" height="24.5" fill="#ff0000"/>
<rect x="565" y="260.5" width="3" height="21.5" fill="#ff0000"/>
<rect x="568" y="259.0" width="1" height="7.0" fill="#ff0000"/>
<rect x="567" y="259.0" width="3" height="3.0" fill="#ff0000"/>
<rect x="570" y="245.0" width="1" height="27.0" fill="#ff0000"/>
<rect x="569" y="253.0" width="3" height="12.0" fill="#ff0000"/>
<rect x="572" y="255.0" width="1" height="15.0" fill="#008c00"/>
<rect x="571" y="257.0" width="3" height="4.0" fill="#008c00"/>
<rect x="574" y="256.0" width="1" height="14.0" fill="#008c00"/>
<rect x="573" y="257.0" width="3" height="2.0" fill="#008c00"/>
<rect x="576" y="243.0" width="1" height="12.0" fill="#008c00"/>
<rect x="575" y="244.0" width="3" height="9.0" fill="#008c00"/>
<rect x="578" y="243.0" width="1" height="9.0" fill="#ff0000"/>
<rect x="577" y="244.0" width="3" height="8.0" fill="#ff0000"/>
<rect x="580" y="238.0" width="1" height="18.0" fill="#ff0000"/>
<rect x="579" y="238.0" width="3" height="15.0" fill="#ff0000"/>
<rect x="582" y="234.0" width="1" height="17.0" fill="#008c00"/>
<rect x="581" y="238.0" width="3" height="12.0" fill="#008c00"/>
<rect x="584" y="216.0" width="1" height="21.0" fill="#008c00"/>
<rect x="583" y="217.0" width="3" height="17.0" fill="#008c00"/>
<rect x="586" y="211.0" width="1" height="15.0" fill="#ff0000"/>
<rect x="585" y="214.0" width="3" height="10.0" fill="#ff0000"/>
<rect x="588" y="216.0" width="1" height="10.0" fill="#ff0000"/>
<rect x="587" y="218.0" width="3" height="7.0" fill="#ff0000"/>
<rect x="590" y="212.0" width="1" height="19.0" fill="#008c00"/>
<rect x="589" y="218.0" width="3" height="11.0" fill="#008c00"/>
<rect x="592" y="218.0" width="1" height="17.0" fill="#ff0000"/>
<rect x="591" y="218.0" width="3" height="15.0" fill="#ff0000"/>
<rect x="594" y="229.0" width="1" height="19.0" fill="#ff0000"/>
<rect x="593" y="229.0" width="3" height="17.0" fill="#ff0000"/>
<rect x="596" y="241.0" width="1" height="22.0" fill="#ff0000"/>
<rect x="595" y="243.0" width="3" height="17.0" fill="#ff0000"/>
<rect x="598" y="246.0" width="1" height="16.0" fill="#ff0000"/>
<rect x="597" y="246.0" width="3" height="15.0" fill="#ff0000"/>
<rect x="600" y="245.0" width="1" height="15.0" fill="#008c00"/>
<rect x="599" y="245.0" width="3" height="13.0" fill="#008c00"/>
<rect x="602" y="249.0" width="1" height="13.0" fill="#ff0000"/>
<rect x="601" y="249.0" width="3" height="13.0" fill="#ff0000"/>
<rect x="604" y="257.0" width="1" height="10.0" fill="#ff0000"/>
<rect x="603" y="257.0" width="3" height="10.0" fill="#ff0000"/>
<rect x="606" y="261.0" width="1" height="11.0" fill="#008c00"/>
<rect x="605" y="262.0" width="3" height="8.0" fill="#008c00"/>
<rect x="608" y="249.0" width="1" height="9.0" fill="#008c00"/>
<rect x="607" y="250.0" width="3" height="6.0" fill="#008c00"/>
<rect x="610" y="232.0" width="1" height="16.0" fill="#008c00"/>
<rect x="609" y="235.0" width="3" height="13.0" fill="#008c00"/>
<rect x="612" y="224.0" width="1" height="11.0" fill="#008c00"/>
<rect x="611" y="227.0" width="3" height="5.0" fill="#008c00"/>
<rect x="614" y="213.0" width="1" height="12.0" fill="#008c00"/>
<rect x="613" y="218.0" width="3" height="4.0" fill="#008c00"/>
<rect x="616" y="204.0" width="1" height="13.0" fill="#008c00"/>
<rect x="615" y="206.0" width="3" height="2.0" fill="#008c00"/>
<rect x="618" y="195.0" width="1" height="22.0" fill="#ff0000"/>
<rect x="617" y="195.0" width="3" height="18.0" fill="#ff0000"/>
<rect x="620" y="206.0" width="1" height="18.0" fill="#008c00"/>
<rect x="619" y="207.0" width="3" height="5.0" fill="#008c00"/>
<rect x="622" y="204.0" width="1" height="10.0" fill="#008c00"/>
<rect x="621" y="207.0" width="3" height="3.0" fill="#008c00"/>
<rect x="624" y="196.0" width="1" height="18.0" fill="#008c00"/>
<rect x="623" y="198.0" width="3" height="10.0" fill="#008c00"/>
<rect x="626" y="196.0" width="1" height="14.0" fill="#ff0000"/>
<rect x="625" y="198.0" width="3" height="10.0" fill="#ff0000"/>
<rect x="628" y="204.0" width="1" height="5.0" fill="#008c00"/>
<rect x="627" y="205.0" width="3" height="4.0" fill="#008c00"/>
<rect x="630" y="204.0" width="1" height="7.0" fill="#008c00"/>
<rect x="629" y="206.0" width="3" height="3.0" fill="#008c00"/>
<rect x="632" y="198.0" width="1" height="11.0" fill="#008c00"/>
<rect x="631" y="202.0" width="3" height="7.0" fill="#008c00"/>
<rect x="634" y="205.0" width="1" height="4.0" fill="#008c00"/>
<rect x="633" y="205.0" width="3" height="4.0" fill="#008c00"/>
<rect x="636" y="199.0" width="1" height="10.0" fill="#ff0000"/>
<rect x="635" y="201.0" width="3" height="7.0" fill="#ff0000"/>
<rect x="638" y="207.0" width="1" height="5.0" fill="#008c00"/>
<rect x="637" y="207.0" width="3" height="5.0" fill="#008c00"/>
<rect x="640" y="199.0" width="1" height="15.0" fill="#ff0000"/>
<rect x="639" y="201.0" width="3" height="12.0" fill="#ff0000"/>
<rect x="642" y="207.0" width="1" height="12.0" fill="#ff0000"/>
<rect x="641" y="209.0" width="3" height="10.0" fill="#ff0000"/>
<rect x="644" y="213.0" width="1" height="7.0" fill="#ff0000"/>
<rect x="643" y="213.0" width="3" height="5.0" fill="#ff0000"/>
<rect x="646" y="200.0" width="1" height="14.0" fill="#008c00"/>
<rect x="645" y="201.0" width="3" height="12.0" fill="#008c00"/>
<rect x="648" y="188.0" width="1" height="20.0" fill="#008c00"/>
<rect x="647" y="190.0" width="3" height="16.0" fill="#008c00"/>
<rect x="650" y="169.7" width="1" height="20.5" fill="#008c00"/>
<rect x="649" y="171.7" width="3" height="16.5" fill="#008c00"/>
<rect x="652" y="164.2" width="1" height="9.7" fill="#ff0000"/>
<rect x="651" y="165.7" width="3" height="6.0" fill="#ff0000"/>
<rect x="654" y="180.7" width="1" height="15.7" fill="#008c00"/>
<rect x="653" y="180.7" width="3" height="12.7" fill="#008c00"/>
<rect x="656" y="179.7" width="1" height="23.5" fill="#008c00"/>
<rect x="655" y="180.7" width="3" height="17.2" fill="#008c00"/>
<rect x="658" y="183.0" width="1" height="21.0" fill="#ff0000"/>
<rect x="657" y="187.5" width="3" height="14.2" fill="#ff0000"/>
<rect x="660" y="188.2" width="1" height="11.2" fill="#6600cc"/>
<rect x="659" y="197.2" width="3" height="1" fill="#6600cc"/>
<rect x="662" y="179.2" width="1" height="15.7" fill="#008c00"/>
<rect x="661" y="180.0" width="3" height="9.0" fill="#008c00"/>
<rect x="664" y="179.0" width="1" height="16.7" fill="#008c00"/>
<rect x="663" y="180.0" width="3" height="8.2" fill="#008c00"/>
<rect x="666" y="172.7" width="1" height="12.2" fill="#ff0000"/>
<rect x="665" y="174.7" width="3" height="8.2" fill="#ff0000"/>
<rect x="668" y="179.0" width="1" height="9.7" fill="#ff0000"/>
<rect x="667" y="180.0" width="3" height="6.7" fill="#ff0000"/>
<rect x="670" y="183.7" width="1" height="5.2" fill="#008c00"/>
<rect x="669" y="183.7" width="3" height="3.7" fill="#008c00"/>
<rect x="672" y="165.7" width="1" height="14.2" fill="#008c00"/>
<rect x="671" y="171.7" width="3" height="5.2" fill="#008c00"/>
<rect x="674" y="164.2" width="1" height="10.2" fill="#ff0000"/>
<rect x="673" y="167.2" width="3" height="5.2" fill="#ff0000"/>
<rect x="676" y="195.0" width="1" height="27.0" fill="#ff0000"/>
<rect x="675" y="213.0" width="3" height="4.0" fill="#ff0000"/>
<rect x="678" y="202.2" width="1" height="9.7" fill="#008c00"/>
<rect x="677" y="203.2" width="3" height="6.7" fill="#008c00"/>
<rect x="680" y="198.0" width="1" height="6.0" fill="#ff0000"/>
<rect x="679" y="201.0" width="3" height="3.0" fill="#ff0000"/>
<rect x="682" y="199.2" width="1" height="9.2" fill="#ff0000"/>
<rect x="681" y="200.2" width="3" height="3.7" fill="#ff0000"/>
<rect x="684" y="197.2" width="1" height="10.0" fill="#008c00"/>
<rect x="683" y="197.2" width="3" height="9.0" fill="#008c00"/>
<rect x="686" y="187.5" width="1" height="6.7" fill="#008c00"/>
<rect x="685" y="187.5" width="3" height="3.7" fill="#008c00"/>
<rect x="688" y="181.2" width="1" height="11.0" fill="#008c00"/>
<rect x="687" y="182.2" width="3" height="9.0" fill="#008c00"/>
<rect x="690" y="161.0" width="1" height="19.7" fill="#008c00"/>
<rect x="689" y="162.0" width="3" height="18.7" fill="#008c00"/>
<rect x="692" y="159.0" width="1" height="25.5" fill="#ff0000"/>
<rect x="691" y="162.0" width="3" height="15.7" fill="#ff0000"/>
<rect x="694" y="158.2" width="1" height="29.2" fill="#008c00"/>
<rect x="693" y="158.2" width="3" height="14.2" fill="#008c00"/>
<rect x="696" y="158.0" width="1" height="10.0" fill="#008c00"/>
<rect x="695" y="159.0" width="3" height="9.0" fill="#008c00"/>
<rect x="698" y="159.7" width="1" height="12.0" fill="#008c00"/>
<rect x="697" y="159.7" width="3" height="9.0" fill="#008c00"/>
<rect x="700" y="161.2" width="1" height="9.2" fill="#ff0000"/>
<rect x="699" y="165.7" width="3" height="3.7" fill="#ff0000"/>
<rect x="702" y="170.2" width="1" height="7.5" fill="#ff0000"/>
<rect x="701" y="170.2" width="3" height="2.2" fill="#ff0000"/>
<rect x="704" y="175.5" width="1" height="7.5" fill="#008c00"/>
<rect x="703" y="179.2" width="3" height="3.7" fill="#008c00"/>
<rect x="706" y="183.7" width="1" height="12.0" fill="#6600cc"/>
<rect x="705" y="188.2" width="3" height="1" fill="#6600cc"/>
<rect x="708" y="177.0" width="1" height="10.5" fill="#008c00"/>
<rect x="707" y="180.7" width="3" height="3.7" fill="#008c00"/>
<rect x="710" y="176.2" width="1" height="25.5" fill="#ff0000"/>
<rect x="709" y="180.7" width="3" height="18.0" fill="#ff0000"/>
<rect x="712" y="181.5" width="1" height="21.0" fill="#008c00"/>
<rect x="711" y="184.5" width="3" height="15.7" fill="#008c00"/>
<rect x="714" y="168.7" width="1" height="13.0" fill="#008c00"/>
<rect x="713" y="177.7" width="3" height="3.0" fill="#008c00"/>
<rect x="716" y="174.7" width="1" height="9.2" fill="#008c00"/>
<rect x="715" y="174.7" width="3" height="8.2" fill="#008c00"/>
<rect x="718" y="149.2" width="1" height="21.7" fill="#008c00"/>
<rect x="717" y="150.0" width="3" height="15.7" fill="#008c00"/>
</g>
<defs><linearGradient id="ag" x1="0" y1="0" x2="0" y2="1"><stop offset="0" stop-color="#ffb4a4"/><stop offset="1" stop-color="#ff5a40"/></linearGradient><linearGradient id="ah" x1="0" y1="0" x2="0" y2="1"><stop offset="0" stop-color="#e83018"/><stop offset="0.35" stop-color="#ff3414"/><stop offset="1" stop-color="#ff2a10"/></linearGradient></defs>
<rect x="270" y="140" width="8" height="9" fill="#ff4830"/>
<rect x="271" y="141" width="6" height="8" fill="url(#ag)"/>
<path d="M265,148 L283,148 L274,157.4 Z" fill="url(#ah)"/>
<rect x="309" y="143" width="8" height="9" fill="#ff4830"/>
<rect x="310" y="144" width="6" height="8" fill="url(#ag)"/>
<path d="M304,151 L322,151 L313,160.4 Z" fill="url(#ah)"/>
<rect x="650" y="143.8" width="8" height="9" fill="#ff4830"/>
<rect x="651" y="144.8" width="6" height="8" fill="url(#ag)"/>
<path d="M645,151.8 L663,151.8 L654,161.20000000000002 Z" fill="url(#ah)"/>
<rect x="671" y="143" width="8" height="9" fill="#ff4830"/>
<rect x="672" y="144" width="6" height="8" fill="url(#ag)"/>
<path d="M666,151 L684,151 L675,160.4 Z" fill="url(#ah)"/>
<rect x="693" y="138" width="8" height="9" fill="#ff4830"/>
<rect x="694" y="139" width="6" height="8" fill="url(#ag)"/>
<path d="M688,146 L706,146 L697,155.4 Z" fill="url(#ah)"/>
<g shape-rendering="crispEdges">
<rect x="5.5" y="22.5" width="735" height="320" fill="none" stroke="#404040" stroke-width="1"/>
<rect x="740" y="59" width="4" height="1" fill="#404040"/>
<rect x="740" y="91" width="4" height="1" fill="#404040"/>
<rect x="740" y="124" width="4" height="1" fill="#404040"/>
<rect x="740" y="156" width="4" height="1" fill="#404040"/>
<rect x="740" y="188" width="4" height="1" fill="#404040"/>
<rect x="740" y="221" width="4" height="1" fill="#404040"/>
<rect x="740" y="253" width="4" height="1" fill="#404040"/>
<rect x="740" y="286" width="4" height="1" fill="#404040"/>
<rect x="740" y="318" width="4" height="1" fill="#404040"/>
<rect x="108" y="342" width="1" height="4" fill="#404040"/>
<rect x="182" y="342" width="1" height="4" fill="#404040"/>
<rect x="264" y="342" width="1" height="4" fill="#404040"/>
<rect x="351" y="342" width="1" height="4" fill="#404040"/>
<rect x="435" y="342" width="1" height="4" fill="#404040"/>
<rect x="516" y="342" width="1" height="4" fill="#404040"/>
<rect x="599" y="342" width="1" height="4" fill="#404040"/>
<rect x="683" y="342" width="1" height="4" fill="#404040"/>
</g>
<text transform="translate(0,63) scale(1,0.94)" x="745.60 751.60 757.60 763.60 766.60 772.60" y="0" font-size="10.6" fill="#000" stroke="#000" stroke-width="0.2">780.00</text>
<text transform="translate(0,95) scale(1,0.94)" x="745.60 751.60 757.60 763.60 766.60 772.60" y="0" font-size="10.6" fill="#000" stroke="#000" stroke-width="0.2">760.00</text>
<text transform="translate(0,128) scale(1,0.94)" x="745.60 751.60 757.60 763.60 766.60 772.60" y="0" font-size="10.6" fill="#000" stroke="#000" stroke-width="0.2">740.00</text>
<text transform="translate(0,160) scale(1,0.94)" x="745.60 751.60 757.60 763.60 766.60 772.60" y="0" font-size="10.6" fill="#000" stroke="#000" stroke-width="0.2">720.00</text>
<text transform="translate(0,192) scale(1,0.94)" x="745.60 751.60 757.60 763.60 766.60 772.60" y="0" font-size="10.6" fill="#000" stroke="#000" stroke-width="0.2">700.00</text>
<text transform="translate(0,225) scale(1,0.94)" x="745.60 751.60 757.60 763.60 766.60 772.60" y="0" font-size="10.6" fill="#000" stroke="#000" stroke-width="0.2">680.00</text>
<text transform="translate(0,257) scale(1,0.94)" x="745.60 751.60 757.60 763.60 766.60 772.60" y="0" font-size="10.6" fill="#000" stroke="#000" stroke-width="0.2">660.00</text>
<text transform="translate(0,290) scale(1,0.94)" x="745.60 751.60 757.60 763.60 766.60 772.60" y="0" font-size="10.6" fill="#000" stroke="#000" stroke-width="0.2">640.00</text>
<text transform="translate(0,322) scale(1,0.94)" x="745.60 751.60 757.60 763.60 766.60 772.60" y="0" font-size="10.6" fill="#000" stroke="#000" stroke-width="0.2">620.00</text>
<text transform="translate(0,355) scale(1,0.94)" x="82.50 88.50 94.50 98.50 104.50 110.50 114.50 120.50 126.50 132.50" y="0" font-size="10.6" fill="#000" stroke="#000" stroke-width="0.2">01-08-2015</text>
<text transform="translate(0,355) scale(1,0.94)" x="156.50 162.50 168.50 172.50 178.50 184.50 188.50 194.50 200.50 206.50" y="0" font-size="10.6" fill="#000" stroke="#000" stroke-width="0.2">01-10-2015</text>
<text transform="translate(0,355) scale(1,0.94)" x="238.50 244.50 250.50 254.50 260.50 266.50 270.50 276.50 282.50 288.50" y="0" font-size="10.6" fill="#000" stroke="#000" stroke-width="0.2">01-12-2015</text>
<text transform="translate(0,355) scale(1,0.94)" x="325.50 331.50 337.50 341.50 347.50 353.50 357.50 363.50 369.50 375.50" y="0" font-size="10.6" fill="#000" stroke="#000" stroke-width="0.2">01-02-2016</text>
<text transform="translate(0,355) scale(1,0.94)" x="409.50 415.50 421.50 425.50 431.50 437.50 441.50 447.50 453.50 459.50" y="0" font-size="10.6" fill="#000" stroke="#000" stroke-width="0.2">01-04-2016</text>
<text transform="translate(0,355) scale(1,0.94)" x="490.50 496.50 502.50 506.50 512.50 518.50 522.50 528.50 534.50 540.50" y="0" font-size="10.6" fill="#000" stroke="#000" stroke-width="0.2">01-06-2016</text>
<text transform="translate(0,355) scale(1,0.94)" x="573.50 579.50 585.50 589.50 595.50 601.50 605.50 611.50 617.50 623.50" y="0" font-size="10.6" fill="#000" stroke="#000" stroke-width="0.2">01-08-2016</text>
<text transform="translate(0,355) scale(1,0.94)" x="657.50 663.50 669.50 673.50 679.50 685.50 689.50 695.50 701.50 707.50" y="0" font-size="10.6" fill="#000" stroke="#000" stroke-width="0.2">01-10-2016</text>
<g shape-rendering="crispEdges">
<rect x="20" y="440.0" width="1" height="29.0" fill="#0000cc"/>
<rect x="22" y="462.0" width="1" height="7.0" fill="#0000cc"/>
<rect x="24" y="457.0" width="1" height="12.0" fill="#0000cc"/>
<rect x="26" y="462.0" width="1" height="7.0" fill="#0000cc"/>
<rect x="28" y="464.0" width="1" height="5.0" fill="#0000cc"/>
<rect x="30" y="461.0" width="1" height="8.0" fill="#0000cc"/>
<rect x="32" y="464.0" width="1" height="5.0" fill="#0000cc"/>
<rect x="34" y="461.0" width="1" height="8.0" fill="#0000cc"/>
<rect x="36" y="463.0" width="1" height="6.0" fill="#0000cc"/>
<rect x="38" y="456.0" width="1" height="13.0" fill="#0000cc"/>
<rect x="40" y="458.0" width="1" height="11.0" fill="#0000cc"/>
<rect x="42" y="461.0" width="1" height="8.0" fill="#0000cc"/>
<rect x="44" y="459.0" width="1" height="10.0" fill="#0000cc"/>
<rect x="45" y="461.0" width="1" height="8.0" fill="#0000cc"/>
<rect x="47" y="464.0" width="1" height="5.0" fill="#0000cc"/>
<rect x="49" y="460.0" width="1" height="9.0" fill="#0000cc"/>
<rect x="51" y="466.0" width="1" height="3.0" fill="#0000cc"/>
<rect x="53" y="453.0" width="1" height="16.0" fill="#0000cc"/>
<rect x="55" y="454.0" width="1" height="15.0" fill="#0000cc"/>
<rect x="57" y="448.0" width="1" height="21.0" fill="#0000cc"/>
<rect x="59" y="408.7" width="1" height="60.3" fill="#0000cc"/>
<rect x="61" y="463.0" width="1" height="6.0" fill="#0000cc"/>
<rect x="63" y="447.0" width="1" height="22.0" fill="#0000cc"/>
<rect x="65" y="459.0" width="1" height="10.0" fill="#0000cc"/>
<rect x="67" y="463.0" width="1" height="6.0" fill="#0000cc"/>
<rect x="69" y="461.0" width="1" height="8.0" fill="#0000cc"/>
<rect x="71" y="467.0" width="1" height="2.0" fill="#0000cc"/>
<rect x="73" y="463.0" width="1" height="6.0" fill="#0000cc"/>
<rect x="75" y="462.0" width="1" height="7.0" fill="#0000cc"/>
<rect x="77" y="462.0" width="1" height="7.0" fill="#0000cc"/>
<rect x="79" y="460.0" width="1" height="9.0" fill="#0000cc"/>
<rect x="81" y="466.0" width="1" height="3.0" fill="#0000cc"/>
<rect x="83" y="457.0" width="1" height="12.0" fill="#0000cc"/>
<rect x="85" y="463.0" width="1" height="6.0" fill="#0000cc"/>
<rect x="87" y="465.0" width="1" height="4.0" fill="#0000cc"/>
<rect x="89" y="463.0" width="1" height="6.0" fill="#0000cc"/>
<rect x="91" y="467.0" width="1" height="2.0" fill="#0000cc"/>
<rect x="93" y="458.0" width="1" height="11.0" fill="#0000cc"/>
<rect x="95" y="464.0" width="1" height="5.0" fill="#0000cc"/>
<rect x="97" y="460.0" width="1" height="9.0" fill="#0000cc"/>
<rect x="99" y="460.0" width="1" height="9.0" fill="#0000cc"/>
<rect x="101" y="452.0" width="1" height="17.0" fill="#0000cc"/>
<rect x="103" y="463.0" width="1" height="6.0" fill="#0000cc"/>
<rect x="105" y="462.0" width="1" height="7.0" fill="#0000cc"/>
<rect x="107" y="448.0" width="1" height="21.0" fill="#0000cc"/>
<rect x="109" y="467.5" width="1" height="1.5" fill="#0000cc"/>
<rect x="111" y="462.0" width="1" height="7.0" fill="#0000cc"/>
<rect x="113" y="463.0" width="1" height="6.0" fill="#0000cc"/>
<rect x="115" y="465.0" width="1" height="4.0" fill="#0000cc"/>
<rect x="117" y="464.0" width="1" height="5.0" fill="#0000cc"/>
<rect x="119" y="466.0" width="1" height="3.0" fill="#0000cc"/>
<rect x="121" y="463.0" width="1" height="6.0" fill="#0000cc"/>
<rect x="123" y="465.0" width="1" height="4.0" fill="#0000cc"/>
<rect x="125" y="463.0" width="1" height="6.0" fill="#0000cc"/>
<rect x="127" y="461.0" width="1" height="8.0" fill="#0000cc"/>
<rect x="129" y="467.5" width="1" height="1.5" fill="#0000cc"/>
<rect x="131" y="463.0" width="1" height="6.0" fill="#0000cc"/>
<rect x="133" y="464.0" width="1" height="5.0" fill="#0000cc"/>
<rect x="135" y="457.0" width="1" height="12.0" fill="#0000cc"/>
<rect x="137" y="460.0" width="1" height="9.0" fill="#0000cc"/>
<rect x="139" y="458.0" width="1" height="11.0" fill="#0000cc"/>
<rect x="141" y="438.0" width="1" height="31.0" fill="#0000cc"/>
<rect x="143" y="456.0" width="1" height="13.0" fill="#0000cc"/>
<rect x="145" y="457.0" width="1" height="12.0" fill="#0000cc"/>
<rect x="147" y="410.0" width="1" height="59.0" fill="#0000cc"/>
<rect x="149" y="466.0" width="1" height="3.0" fill="#0000cc"/>
<rect x="151" y="461.0" width="1" height="8.0" fill="#0000cc"/>
<rect x="153" y="460.0" width="1" height="9.0" fill="#0000cc"/>
<rect x="155" y="463.0" width="1" height="6.0" fill="#0000cc"/>
<rect x="157" y="461.0" width="1" height="8.0" fill="#0000cc"/>
<rect x="159" y="464.0" width="1" height="5.0" fill="#0000cc"/>
<rect x="161" y="466.0" width="1" height="3.0" fill="#0000cc"/>
<rect x="163" y="461.0" width="1" height="8.0" fill="#0000cc"/>
<rect x="165" y="456.0" width="1" height="13.0" fill="#0000cc"/>
<rect x="167" y="461.0" width="1" height="8.0" fill="#0000cc"/>
<rect x="169" y="460.0" width="1" height="9.0" fill="#0000cc"/>
<rect x="171" y="464.0" width="1" height="5.0" fill="#0000cc"/>
<rect x="173" y="457.0" width="1" height="12.0" fill="#0000cc"/>
<rect x="175" y="458.0" width="1" height="11.0" fill="#0000cc"/>
<rect x="177" y="438.0" width="1" height="31.0" fill="#0000cc"/>
<rect x="179" y="461.0" width="1" height="8.0" fill="#0000cc"/>
<rect x="181" y="461.0" width="1" height="8.0" fill="#0000cc"/>
<rect x="183" y="459.0" width="1" height="10.0" fill="#0000cc"/>
<rect x="185" y="461.0" width="1" height="8.0" fill="#0000cc"/>
<rect x="187" y="463.0" width="1" height="6.0" fill="#0000cc"/>
<rect x="189" y="461.0" width="1" height="8.0" fill="#0000cc"/>
<rect x="191" y="467.0" width="1" height="2.0" fill="#0000cc"/>
<rect x="193" y="465.0" width="1" height="4.0" fill="#0000cc"/>
<rect x="195" y="458.0" width="1" height="11.0" fill="#0000cc"/>
<rect x="197" y="464.0" width="1" height="5.0" fill="#0000cc"/>
<rect x="199" y="462.0" width="1" height="7.0" fill="#0000cc"/>
<rect x="201" y="467.0" width="1" height="2.0" fill="#0000cc"/>
<rect x="203" y="460.0" width="1" height="9.0" fill="#0000cc"/>
<rect x="205" y="460.0" width="1" height="9.0" fill="#0000cc"/>
<rect x="207" y="462.0" width="1" height="7.0" fill="#0000cc"/>
<rect x="209" y="462.0" width="1" height="7.0" fill="#0000cc"/>
<rect x="211" y="463.0" width="1" height="6.0" fill="#0000cc"/>
<rect x="213" y="462.0" width="1" height="7.0" fill="#0000cc"/>
<rect x="215" y="464.0" width="1" height="5.0" fill="#0000cc"/>
<rect x="217" y="461.0" width="1" height="8.0" fill="#0000cc"/>
<rect x="219" y="454.0" width="1" height="15.0" fill="#0000cc"/>
<rect x="221" y="466.0" width="1" height="3.0" fill="#0000cc"/>
<rect x="223" y="462.0" width="1" height="7.0" fill="#0000cc"/>
<rect x="225" y="465.0" width="1" height="4.0" fill="#0000cc"/>
<rect x="227" y="465.0" width="1" height="4.0" fill="#0000cc"/>
<rect x="229" y="464.0" width="1" height="5.0" fill="#0000cc"/>
<rect x="231" y="465.0" width="1" height="4.0" fill="#0000cc"/>
<rect x="233" y="461.0" width="1" height="8.0" fill="#0000cc"/>
<rect x="235" y="462.0" width="1" height="7.0" fill="#0000cc"/>
<rect x="237" y="465.0" width="1" height="4.0" fill="#0000cc"/>
<rect x="239" y="459.0" width="1" height="10.0" fill="#0000cc"/>
<rect x="241" y="462.0" width="1" height="7.0" fill="#0000cc"/>
<rect x="243" y="463.0" width="1" height="6.0" fill="#0000cc"/>
<rect x="245" y="458.0" width="1" height="11.0" fill="#0000cc"/>
<rect x="247" y="464.0" width="1" height="5.0" fill="#0000cc"/>
<rect x="249" y="453.0" width="1" height="16.0" fill="#0000cc"/>
<rect x="251" y="464.0" width="1" height="5.0" fill="#0000cc"/>
<rect x="253" y="461.0" width="1" height="8.0" fill="#0000cc"/>
<rect x="255" y="461.0" width="1" height="8.0" fill="#0000cc"/>
<rect x="257" y="463.0" width="1" height="6.0" fill="#0000cc"/>
<rect x="259" y="453.0" width="1" height="16.0" fill="#0000cc"/>
<rect x="261" y="467.0" width="1" height="2.0" fill="#0000cc"/>
<rect x="263" y="461.0" width="1" height="8.0" fill="#0000cc"/>
<rect x="265" y="465.0" width="1" height="4.0" fill="#0000cc"/>
<rect x="267" y="465.0" width="1" height="4.0" fill="#0000cc"/>
<rect x="269" y="463.0" width="1" height="6.0" fill="#0000cc"/>
<rect x="271" y="466.0" width="1" height="3.0" fill="#0000cc"/>
<rect x="273" y="462.0" width="1" height="7.0" fill="#0000cc"/>
<rect x="275" y="463.0" width="1" height="6.0" fill="#0000cc"/>
<rect x="277" y="463.0" width="1" height="6.0" fill="#0000cc"/>
<rect x="279" y="453.0" width="1" height="16.0" fill="#0000cc"/>
<rect x="281" y="464.0" width="1" height="5.0" fill="#0000cc"/>
<rect x="283" y="435.7" width="1" height="33.3" fill="#0000cc"/>
<rect x="285" y="461.0" width="1" height="8.0" fill="#0000cc"/>
<rect x="287" y="461.0" width="1" height="8.0" fill="#0000cc"/>
<rect x="289" y="456.0" width="1" height="13.0" fill="#0000cc"/>
<rect x="291" y="464.0" width="1" height="5.0" fill="#0000cc"/>
<rect x="293" y="463.0" width="1" height="6.0" fill="#0000cc"/>
<rect x="295" y="457.0" width="1" height="12.0" fill="#0000cc"/>
<rect x="297" y="462.0" width="1" height="7.0" fill="#0000cc"/>
<rect x="299" y="433.0" width="1" height="36.0" fill="#0000cc"/>
<rect x="301" y="465.0" width="1" height="4.0" fill="#0000cc"/>
<rect x="303" y="465.0" width="1" height="4.0" fill="#0000cc"/>
<rect x="305" y="465.0" width="1" height="4.0" fill="#0000cc"/>
<rect x="307" y="465.0" width="1" height="4.0" fill="#0000cc"/>
<rect x="309" y="459.0" width="1" height="10.0" fill="#0000cc"/>
<rect x="311" y="462.0" width="1" height="7.0" fill="#0000cc"/>
<rect x="313" y="459.0" width="1" height="10.0" fill="#0000cc"/>
<rect x="315" y="459.0" width="1" height="10.0" fill="#0000cc"/>
<rect x="317" y="461.0" width="1" height="8.0" fill="#0000cc"/>
<rect x="319" y="458.0" width="1" height="11.0" fill="#0000cc"/>
<rect x="321" y="467.0" width="1" height="2.0" fill="#0000cc"/>
<rect x="323" y="463.0" width="1" height="6.0" fill="#0000cc"/>
<rect x="325" y="464.0" width="1" height="5.0" fill="#0000cc"/>
<rect x="327" y="462.0" width="1" height="7.0" fill="#0000cc"/>
<rect x="329" y="453.0" width="1" height="16.0" fill="#0000cc"/>
<rect x="331" y="463.0" width="1" height="6.0" fill="#0000cc"/>
<rect x="333" y="462.0" width="1" height="7.0" fill="#0000cc"/>
<rect x="335" y="461.0" width="1" height="8.0" fill="#0000cc"/>
<rect x="337" y="452.0" width="1" height="17.0" fill="#0000cc"/>
<rect x="339" y="465.0" width="1" height="4.0" fill="#0000cc"/>
<rect x="341" y="461.0" width="1" height="8.0" fill="#0000cc"/>
<rect x="343" y="460.0" width="1" height="9.0" fill="#0000cc"/>
<rect x="345" y="460.0" width="1" height="9.0" fill="#0000cc"/>
<rect x="347" y="467.5" width="1" height="1.5" fill="#0000cc"/>
<rect x="349" y="465.0" width="1" height="4.0" fill="#0000cc"/>
<rect x="351" y="460.0" width="1" height="9.0" fill="#0000cc"/>
<rect x="353" y="463.0" width="1" height="6.0" fill="#0000cc"/>
<rect x="355" y="463.0" width="1" height="6.0" fill="#0000cc"/>
<rect x="357" y="459.0" width="1" height="10.0" fill="#0000cc"/>
<rect x="359" y="467.0" width="1" height="2.0" fill="#0000cc"/>
<rect x="361" y="461.0" width="1" height="8.0" fill="#0000cc"/>
<rect x="363" y="461.0" width="1" height="8.0" fill="#0000cc"/>
<rect x="365" y="463.0" width="1" height="6.0" fill="#0000cc"/>
<rect x="367" y="459.0" width="1" height="10.0" fill="#0000cc"/>
<rect x="369" y="467.0" width="1" height="2.0" fill="#0000cc"/>
<rect x="371" y="464.0" width="1" height="5.0" fill="#0000cc"/>
<rect x="373" y="464.0" width="1" height="5.0" fill="#0000cc"/>
<rect x="375" y="464.0" width="1" height="5.0" fill="#0000cc"/>
<rect x="377" y="463.0" width="1" height="6.0" fill="#0000cc"/>
<rect x="379" y="467.5" width="1" height="1.5" fill="#0000cc"/>
<rect x="381" y="464.0" width="1" height="5.0" fill="#0000cc"/>
<rect x="383" y="464.0" width="1" height="5.0" fill="#0000cc"/>
<rect x="385" y="462.0" width="1" height="7.0" fill="#0000cc"/>
<rect x="387" y="429.0" width="1" height="40.0" fill="#0000cc"/>
<rect x="389" y="466.0" width="1" height="3.0" fill="#0000cc"/>
<rect x="391" y="461.0" width="1" height="8.0" fill="#0000cc"/>
<rect x="393" y="463.0" width="1" height="6.0" fill="#0000cc"/>
<rect x="395" y="462.0" width="1" height="7.0" fill="#0000cc"/>
<rect x="397" y="462.0" width="1" height="7.0" fill="#0000cc"/>
<rect x="399" y="467.0" width="1" height="2.0" fill="#0000cc"/>
<rect x="401" y="463.0" width="1" height="6.0" fill="#0000cc"/>
<rect x="403" y="463.0" width="1" height="6.0" fill="#0000cc"/>
<rect x="405" y="464.0" width="1" height="5.0" fill="#0000cc"/>
<rect x="407" y="463.0" width="1" height="6.0" fill="#0000cc"/>
<rect x="408" y="466.0" width="1" height="3.0" fill="#0000cc"/>
<rect x="410" y="455.0" width="1" height="14.0" fill="#0000cc"/>
<rect x="412" y="464.0" width="1" height="5.0" fill="#0000cc"/>
<rect x="414" y="465.0" width="1" height="4.0" fill="#0000cc"/>
<rect x="416" y="461.0" width="1" height="8.0" fill="#0000cc"/>
<rect x="418" y="467.0" width="1" height="2.0" fill="#0000cc"/>
<rect x="420" y="465.0" width="1" height="4.0" fill="#0000cc"/>
<rect x="422" y="464.0" width="1" height="5.0" fill="#0000cc"/>
<rect x="424" y="437.0" width="1" height="32.0" fill="#0000cc"/>
<rect x="426" y="467.0" width="1" height="2.0" fill="#0000cc"/>
<rect x="428" y="466.0" width="1" height="3.0" fill="#0000cc"/>
<rect x="430" y="465.0" width="1" height="4.0" fill="#0000cc"/>
<rect x="432" y="465.0" width="1" height="4.0" fill="#0000cc"/>
<rect x="434" y="464.0" width="1" height="5.0" fill="#0000cc"/>
<rect x="436" y="467.5" width="1" height="1.5" fill="#0000cc"/>
<rect x="438" y="464.0" width="1" height="5.0" fill="#0000cc"/>
<rect x="440" y="465.0" width="1" height="4.0" fill="#0000cc"/>
<rect x="442" y="459.0" width="1" height="10.0" fill="#0000cc"/>
<rect x="444" y="458.0" width="1" height="11.0" fill="#0000cc"/>
<rect x="446" y="467.0" width="1" height="2.0" fill="#0000cc"/>
<rect x="448" y="462.0" width="1" height="7.0" fill="#0000cc"/>
<rect x="450" y="461.0" width="1" height="8.0" fill="#0000cc"/>
<rect x="452" y="460.0" width="1" height="9.0" fill="#0000cc"/>
<rect x="454" y="458.0" width="1" height="11.0" fill="#0000cc"/>
<rect x="456" y="466.0" width="1" height="3.0" fill="#0000cc"/>
<rect x="458" y="461.0" width="1" height="8.0" fill="#0000cc"/>
<rect x="460" y="460.0" width="1" height="9.0" fill="#0000cc"/>
<rect x="462" y="420.0" width="1" height="49.0" fill="#0000cc"/>
<rect x="464" y="454.0" width="1" height="15.0" fill="#0000cc"/>
<rect x="466" y="467.0" width="1" height="2.0" fill="#0000cc"/>
<rect x="468" y="467.0" width="1" height="2.0" fill="#0000cc"/>
<rect x="470" y="458.0" width="1" height="11.0" fill="#0000cc"/>
<rect x="472" y="432.0" width="1" height="37.0" fill="#0000cc"/>
<rect x="474" y="462.0" width="1" height="7.0" fill="#0000cc"/>
<rect x="476" y="456.0" width="1" height="13.0" fill="#0000cc"/>
<rect x="478" y="460.0" width="1" height="9.0" fill="#0000cc"/>
<rect x="480" y="463.0" width="1" height="6.0" fill="#0000cc"/>
<rect x="482" y="461.0" width="1" height="8.0" fill="#0000cc"/>
<rect x="484" y="466.0" width="1" height="3.0" fill="#0000cc"/>
<rect x="486" y="457.0" width="1" height="12.0" fill="#0000cc"/>
<rect x="488" y="463.0" width="1" height="6.0" fill="#0000cc"/>
<rect x="490" y="466.0" width="1" height="3.0" fill="#0000cc"/>
<rect x="492" y="463.0" width="1" height="6.0" fill="#0000cc"/>
<rect x="494" y="461.0" width="1" height="8.0" fill="#0000cc"/>
<rect x="496" y="462.0" width="1" height="7.0" fill="#0000cc"/>
<rect x="498" y="458.0" width="1" height="11.0" fill="#0000cc"/>
<rect x="500" y="467.0" width="1" height="2.0" fill="#0000cc"/>
<rect x="502" y="462.0" width="1" height="7.0" fill="#0000cc"/>
<rect x="504" y="457.0" width="1" height="12.0" fill="#0000cc"/>
<rect x="506" y="459.0" width="1" height="10.0" fill="#0000cc"/>
<rect x="508" y="452.0" width="1" height="17.0" fill="#0000cc"/>
<rect x="510" y="467.0" width="1" height="2.0" fill="#0000cc"/>
<rect x="512" y="461.0" width="1" height="8.0" fill="#0000cc"/>
<rect x="514" y="464.0" width="1" height="5.0" fill="#0000cc"/>
<rect x="516" y="467.0" width="1" height="2.0" fill="#0000cc"/>
<rect x="518" y="463.0" width="1" height="6.0" fill="#0000cc"/>
<rect x="520" y="466.0" width="1" height="3.0" fill="#0000cc"/>
<rect x="522" y="465.0" width="1" height="4.0" fill="#0000cc"/>
<rect x="524" y="464.0" width="1" height="5.0" fill="#0000cc"/>
<rect x="526" y="464.0" width="1" height="5.0" fill="#0000cc"/>
<rect x="528" y="461.0" width="1" height="8.0" fill="#0000cc"/>
<rect x="530" y="462.0" width="1" height="7.0" fill="#0000cc"/>
<rect x="532" y="445.0" width="1" height="24.0" fill="#0000cc"/>
<rect x="534" y="461.0" width="1" height="8.0" fill="#0000cc"/>
<rect x="536" y="434.0" width="1" height="35.0" fill="#0000cc"/>
<rect x="538" y="463.0" width="1" height="6.0" fill="#0000cc"/>
<rect x="540" y="451.0" width="1" height="18.0" fill="#0000cc"/>
<rect x="542" y="464.0" width="1" height="5.0" fill="#0000cc"/>
<rect x="544" y="465.0" width="1" height="4.0" fill="#0000cc"/>
<rect x="546" y="440.0" width="1" height="29.0" fill="#0000cc"/>
<rect x="548" y="458.0" width="1" height="11.0" fill="#0000cc"/>
<rect x="550" y="462.0" width="1" height="7.0" fill="#0000cc"/>
<rect x="552" y="464.0" width="1" height="5.0" fill="#0000cc"/>
<rect x="554" y="463.0" width="1" height="6.0" fill="#0000cc"/>
<rect x="556" y="460.0" width="1" height="9.0" fill="#0000cc"/>
<rect x="558" y="466.0" width="1" height="3.0" fill="#0000cc"/>
<rect x="560" y="465.0" width="1" height="4.0" fill="#0000cc"/>
<rect x="562" y="463.0" width="1" height="6.0" fill="#0000cc"/>
<rect x="564" y="463.0" width="1" height="6.0" fill="#0000cc"/>
<rect x="566" y="465.0" width="1" height="4.0" fill="#0000cc"/>
<rect x="568" y="466.0" width="1" height="3.0" fill="#0000cc"/>
<rect x="570" y="465.0" width="1" height="4.0" fill="#0000cc"/>
<rect x="572" y="464.0" width="1" height="5.0" fill="#0000cc"/>
<rect x="574" y="466.0" width="1" height="3.0" fill="#0000cc"/>
<rect x="576" y="461.0" width="1" height="8.0" fill="#0000cc"/>
<rect x="578" y="467.5" width="1" height="1.5" fill="#0000cc"/>
<rect x="580" y="465.0" width="1" height="4.0" fill="#0000cc"/>
<rect x="582" y="463.0" width="1" height="6.0" fill="#0000cc"/>
<rect x="584" y="461.0" width="1" height="8.0" fill="#0000cc"/>
<rect x="586" y="465.0" width="1" height="4.0" fill="#0000cc"/>
<rect x="588" y="465.0" width="1" height="4.0" fill="#0000cc"/>
<rect x="590" y="465.0" width="1" height="4.0" fill="#0000cc"/>
<rect x="592" y="464.0" width="1" height="5.0" fill="#0000cc"/>
<rect x="594" y="461.0" width="1" height="8.0" fill="#0000cc"/>
<rect x="596" y="457.0" width="1" height="12.0" fill="#0000cc"/>
<rect x="598" y="466.0" width="1" height="3.0" fill="#0000cc"/>
<rect x="600" y="449.0" width="1" height="20.0" fill="#0000cc"/>
<rect x="602" y="460.0" width="1" height="9.0" fill="#0000cc"/>
<rect x="604" y="466.0" width="1" height="3.0" fill="#0000cc"/>
<rect x="606" y="465.0" width="1" height="4.0" fill="#0000cc"/>
<rect x="608" y="467.0" width="1" height="2.0" fill="#0000cc"/>
<rect x="610" y="464.0" width="1" height="5.0" fill="#0000cc"/>
<rect x="612" y="462.0" width="1" height="7.0" fill="#0000cc"/>
<rect x="614" y="462.0" width="1" height="7.0" fill="#0000cc"/>
<rect x="616" y="464.0" width="1" height="5.0" fill="#0000cc"/>
<rect x="618" y="462.0" width="1" height="7.0" fill="#0000cc"/>
<rect x="620" y="463.0" width="1" height="6.0" fill="#0000cc"/>
<rect x="622" y="465.0" width="1" height="4.0" fill="#0000cc"/>
<rect x="624" y="462.0" width="1" height="7.0" fill="#0000cc"/>
<rect x="626" y="467.0" width="1" height="2.0" fill="#0000cc"/>
<rect x="628" y="462.0" width="1" height="7.0" fill="#0000cc"/>
<rect x="630" y="466.0" width="1" height="3.0" fill="#0000cc"/>
<rect x="632" y="466.0" width="1" height="3.0" fill="#0000cc"/>
<rect x="634" y="451.0" width="1" height="18.0" fill="#0000cc"/>
<rect x="636" y="467.5" width="1" height="1.5" fill="#0000cc"/>
<rect x="638" y="467.5" width="1" height="1.5" fill="#0000cc"/>
<rect x="640" y="464.0" width="1" height="5.0" fill="#0000cc"/>
<rect x="642" y="465.0" width="1" height="4.0" fill="#0000cc"/>
<rect x="644" y="464.0" width="1" height="5.0" fill="#0000cc"/>
<rect x="646" y="466.0" width="1" height="3.0" fill="#0000cc"/>
<rect x="648" y="461.0" width="1" height="8.0" fill="#0000cc"/>
<rect x="650" y="462.0" width="1" height="7.0" fill="#0000cc"/>
<rect x="652" y="443.0" width="1" height="26.0" fill="#0000cc"/>
<rect x="654" y="464.0" width="1" height="5.0" fill="#0000cc"/>
<rect x="656" y="455.0" width="1" height="14.0" fill="#0000cc"/>
<rect x="658" y="456.0" width="1" height="13.0" fill="#0000cc"/>
<rect x="660" y="452.0" width="1" height="17.0" fill="#0000cc"/>
<rect x="662" y="458.0" width="1" height="11.0" fill="#0000cc"/>
<rect x="664" y="467.0" width="1" height="2.0" fill="#0000cc"/>
<rect x="666" y="465.0" width="1" height="4.0" fill="#0000cc"/>
<rect x="668" y="465.0" width="1" height="4.0" fill="#0000cc"/>
<rect x="670" y="462.0" width="1" height="7.0" fill="#0000cc"/>
<rect x="672" y="453.0" width="1" height="16.0" fill="#0000cc"/>
<rect x="674" y="466.0" width="1" height="3.0" fill="#0000cc"/>
<rect x="676" y="373.7" width="1" height="95.3" fill="#0000cc"/>
<rect x="678" y="439.0" width="1" height="30.0" fill="#0000cc"/>
<rect x="680" y="449.0" width="1" height="20.0" fill="#0000cc"/>
<rect x="682" y="441.0" width="1" height="28.0" fill="#0000cc"/>
<rect x="684" y="454.0" width="1" height="15.0" fill="#0000cc"/>
<rect x="686" y="412.0" width="1" height="57.0" fill="#0000cc"/>
<rect x="688" y="463.0" width="1" height="6.0" fill="#0000cc"/>
<rect x="690" y="453.0" width="1" height="16.0" fill="#0000cc"/>
<rect x="692" y="454.0" width="1" height="15.0" fill="#0000cc"/>
<rect x="694" y="457.0" width="1" height="12.0" fill="#0000cc"/>
<rect x="696" y="464.0" width="1" height="5.0" fill="#0000cc"/>
<rect x="698" y="465.0" width="1" height="4.0" fill="#0000cc"/>
<rect x="700" y="450.0" width="1" height="19.0" fill="#0000cc"/>
<rect x="702" y="466.0" width="1" height="3.0" fill="#0000cc"/>
<rect x="704" y="456.0" width="1" height="13.0" fill="#0000cc"/>
<rect x="706" y="466.0" width="1" height="3.0" fill="#0000cc"/>
<rect x="708" y="459.0" width="1" height="10.0" fill="#0000cc"/>
<rect x="710" y="460.0" width="1" height="9.0" fill="#0000cc"/>
<rect x="712" y="459.0" width="1" height="10.0" fill="#0000cc"/>
<rect x="714" y="461.0" width="1" height="8.0" fill="#0000cc"/>
<rect x="716" y="465.0" width="1" height="4.0" fill="#0000cc"/>
<rect x="718" y="459.0" width="1" height="10.0" fill="#0000cc"/>
</g>
<path d="M20.0,459.0 C21.8,459.3 25.5,460.3 30.0,460.5 C34.5,460.7 40.5,460.4 45.0,460.0 C49.5,459.6 51.8,458.7 55.0,458.0 C58.2,457.3 59.9,456.0 63.0,456.0 C66.1,456.0 68.9,457.3 72.0,458.0 C75.1,458.7 75.0,459.6 80.0,460.0 C85.0,460.4 92.8,460.3 100.0,460.5 C107.2,460.7 113.7,461.1 120.0,461.0 C126.3,460.9 130.0,460.8 135.0,460.0 C140.0,459.2 143.5,456.9 148.0,456.5 C152.5,456.1 155.0,457.2 160.0,457.5 C165.0,457.8 168.8,457.6 176.0,458.0 C183.2,458.4 190.3,459.5 200.0,460.0 C209.7,460.5 219.2,460.7 230.0,461.0 C240.8,461.3 250.5,461.7 260.0,461.5 C269.5,461.3 275.8,460.4 283.0,460.0 C290.2,459.6 291.5,458.9 300.0,459.0 C308.5,459.1 319.2,460.1 330.0,460.5 C340.8,460.9 350.1,460.8 360.0,461.0 C369.9,461.2 378.7,461.5 385.0,461.5 C391.3,461.5 388.7,460.9 395.0,461.0 C401.3,461.1 411.9,462.0 420.0,462.0 C428.1,462.0 432.3,461.5 440.0,461.0 C447.7,460.5 456.7,459.5 463.0,459.0 C469.3,458.5 468.3,458.0 475.0,458.0 C481.7,458.0 491.9,458.6 500.0,459.0 C508.1,459.4 514.6,459.6 520.0,460.0 C525.4,460.4 526.4,461.7 530.0,461.5 C533.6,461.3 536.8,459.6 540.0,459.0 C543.2,458.4 544.4,457.8 548.0,458.0 C551.6,458.2 554.2,459.5 560.0,460.0 C565.8,460.5 572.8,460.6 580.0,461.0 C587.2,461.4 589.2,461.6 600.0,462.0 C610.8,462.4 629.2,462.9 640.0,463.0 C650.8,463.1 654.2,462.9 660.0,462.5 C665.8,462.1 668.8,462.4 672.0,461.0 C675.2,459.6 675.3,456.6 678.0,455.0 C680.7,453.4 683.9,452.4 687.0,452.0 C690.1,451.6 691.8,452.5 695.0,453.0 C698.2,453.5 700.9,454.2 705.0,455.0 C709.1,455.8 715.7,457.1 718.0,457.5" fill="none" stroke="#ff0000" stroke-width="1.1"/>
<g shape-rendering="crispEdges">
<rect x="5.5" y="359.5" width="735" height="110" fill="none" stroke="#404040" stroke-width="1"/>
<rect x="740" y="379" width="4" height="1" fill="#404040"/>
<rect x="740" y="402" width="4" height="1" fill="#404040"/>
<rect x="740" y="424" width="4" height="1" fill="#404040"/>
<rect x="740" y="447" width="4" height="1" fill="#404040"/>
</g>
<text transform="translate(0,383) scale(1,0.94)" x="745.60 751.60 757.60 763.60 766.60 772.60 778.60" y="0" font-size="10.6" fill="#000" stroke="#000" stroke-width="0.2">200,000</text>
<text transform="translate(0,406) scale(1,0.94)" x="746.20 752.20 758.20 764.20 767.20 773.20 779.20" y="0" font-size="10.6" fill="#000" stroke="#000" stroke-width="0.2">150,000</text>
<text transform="translate(0,428) scale(1,0.94)" x="746.20 752.20 758.20 764.20 767.20 773.20 779.20" y="0" font-size="10.6" fill="#000" stroke="#000" stroke-width="0.2">100,000</text>
<text transform="translate(0,451) scale(1,0.94)" x="745.60 751.60 757.60 760.60 766.60 772.60" y="0" font-size="10.6" fill="#000" stroke="#000" stroke-width="0.2">50,000</text>
<g shape-rendering="crispEdges">
<rect x="20" y="523.0" width="1" height="3.5" fill="#009900"/>
<rect x="22" y="522.0" width="1" height="4.5" fill="#009900"/>
<rect x="24" y="523.4" width="1" height="3.1" fill="#009900"/>
<rect x="26" y="523.0" width="1" height="3.6" fill="#009900"/>
<rect x="28" y="523.8" width="1" height="2.7" fill="#009900"/>
<rect x="30" y="524.6" width="1" height="1.9" fill="#009900"/>
<rect x="32" y="525.0" width="1" height="1.5" fill="#009900"/>
<rect x="34" y="524.5" width="1" height="2.0" fill="#009900"/>
<rect x="36" y="523.9" width="1" height="2.6" fill="#009900"/>
<rect x="38" y="523.4" width="1" height="3.1" fill="#009900"/>
<rect x="40" y="522.6" width="1" height="3.9" fill="#009900"/>
<rect x="42" y="523.5" width="1" height="3.0" fill="#009900"/>
<rect x="45" y="526.5" width="1" height="2.0" fill="#009900"/>
<rect x="47" y="526.5" width="1" height="4.1" fill="#009900"/>
<rect x="49" y="526.5" width="1" height="5.4" fill="#009900"/>
<rect x="51" y="526.5" width="1" height="3.7" fill="#009900"/>
<rect x="53" y="526.5" width="1" height="1.1" fill="#009900"/>
<rect x="55" y="523.2" width="1" height="3.3" fill="#009900"/>
<rect x="57" y="519.7" width="1" height="6.8" fill="#009900"/>
<rect x="59" y="516.8" width="1" height="9.8" fill="#009900"/>
<rect x="61" y="521.4" width="1" height="5.1" fill="#009900"/>
<rect x="63" y="524.2" width="1" height="2.3" fill="#009900"/>
<rect x="69" y="526.5" width="1" height="0.6" fill="#009900"/>
<rect x="71" y="526.5" width="1" height="3.1" fill="#009900"/>
<rect x="73" y="526.5" width="1" height="4.6" fill="#009900"/>
<rect x="75" y="526.5" width="1" height="6.1" fill="#009900"/>
<rect x="77" y="526.5" width="1" height="7.1" fill="#009900"/>
<rect x="79" y="526.5" width="1" height="7.6" fill="#009900"/>
<rect x="81" y="526.5" width="1" height="3.8" fill="#009900"/>
<rect x="83" y="526.5" width="1" height="2.2" fill="#009900"/>
<rect x="91" y="523.8" width="1" height="2.7" fill="#009900"/>
<rect x="93" y="521.3" width="1" height="5.2" fill="#009900"/>
<rect x="95" y="519.0" width="1" height="7.5" fill="#009900"/>
<rect x="97" y="522.9" width="1" height="3.6" fill="#009900"/>
<rect x="99" y="525.0" width="1" height="1.5" fill="#009900"/>
<rect x="105" y="525.5" width="1" height="1.0" fill="#009900"/>
<rect x="107" y="524.5" width="1" height="2.0" fill="#009900"/>
<rect x="109" y="524.0" width="1" height="2.5" fill="#009900"/>
<rect x="111" y="523.8" width="1" height="2.7" fill="#009900"/>
<rect x="113" y="524.6" width="1" height="1.9" fill="#009900"/>
<rect x="115" y="525.8" width="1" height="0.7" fill="#009900"/>
<rect x="123" y="526.5" width="1" height="1.8" fill="#009900"/>
<rect x="125" y="526.5" width="1" height="3.2" fill="#009900"/>
<rect x="127" y="526.5" width="1" height="4.5" fill="#009900"/>
<rect x="129" y="526.5" width="1" height="4.5" fill="#009900"/>
<rect x="131" y="526.5" width="1" height="2.8" fill="#009900"/>
<rect x="133" y="526.5" width="1" height="0.6" fill="#009900"/>
<rect x="135" y="524.3" width="1" height="2.2" fill="#009900"/>
<rect x="137" y="526.5" width="1" height="1.1" fill="#009900"/>
<rect x="139" y="526.5" width="1" height="7.6" fill="#009900"/>
<rect x="141" y="526.5" width="1" height="18.1" fill="#009900"/>
<rect x="143" y="526.5" width="1" height="19.8" fill="#009900"/>
<rect x="145" y="526.5" width="1" height="18.6" fill="#009900"/>
<rect x="147" y="526.5" width="1" height="17.5" fill="#009900"/>
<rect x="149" y="526.5" width="1" height="16.7" fill="#009900"/>
<rect x="151" y="526.5" width="1" height="15.2" fill="#009900"/>
<rect x="153" y="526.5" width="1" height="13.7" fill="#009900"/>
<rect x="155" y="526.5" width="1" height="10.4" fill="#009900"/>
<rect x="157" y="526.5" width="1" height="7.4" fill="#009900"/>
<rect x="159" y="526.5" width="1" height="4.8" fill="#009900"/>
<rect x="161" y="526.5" width="1" height="2.7" fill="#009900"/>
<rect x="163" y="523.5" width="1" height="3.0" fill="#009900"/>
<rect x="165" y="519.8" width="1" height="6.7" fill="#009900"/>
<rect x="167" y="518.1" width="1" height="8.4" fill="#009900"/>
<rect x="169" y="516.5" width="1" height="10.0" fill="#009900"/>
<rect x="171" y="521.5" width="1" height="5.0" fill="#009900"/>
<rect x="173" y="525.8" width="1" height="0.7" fill="#009900"/>
<rect x="175" y="526.5" width="1" height="4.1" fill="#009900"/>
<rect x="177" y="526.5" width="1" height="5.4" fill="#009900"/>
<rect x="179" y="526.5" width="1" height="7.7" fill="#009900"/>
<rect x="181" y="526.5" width="1" height="9.7" fill="#009900"/>
<rect x="183" y="526.5" width="1" height="9.3" fill="#009900"/>
<rect x="185" y="526.5" width="1" height="4.9" fill="#009900"/>
<rect x="187" y="526.5" width="1" height="0.6" fill="#009900"/>
<rect x="193" y="526.5" width="1" height="2.8" fill="#009900"/>
<rect x="195" y="526.5" width="1" height="4.1" fill="#009900"/>
<rect x="197" y="526.5" width="1" height="2.8" fill="#009900"/>
<rect x="199" y="526.5" width="1" height="2.4" fill="#009900"/>
<rect x="201" y="526.5" width="1" height="4.0" fill="#009900"/>
<rect x="203" y="526.5" width="1" height="5.5" fill="#009900"/>
<rect x="205" y="526.5" width="1" height="2.5" fill="#009900"/>
<rect x="209" y="523.3" width="1" height="3.2" fill="#009900"/>
<rect x="211" y="520.3" width="1" height="6.2" fill="#009900"/>
<rect x="213" y="520.4" width="1" height="6.1" fill="#009900"/>
<rect x="215" y="523.5" width="1" height="3.0" fill="#009900"/>
<rect x="227" y="524.5" width="1" height="2.0" fill="#009900"/>
<rect x="229" y="522.9" width="1" height="3.6" fill="#009900"/>
<rect x="231" y="522.1" width="1" height="4.4" fill="#009900"/>
<rect x="233" y="521.6" width="1" height="4.9" fill="#009900"/>
<rect x="235" y="519.7" width="1" height="6.8" fill="#009900"/>
<rect x="237" y="523.0" width="1" height="3.5" fill="#009900"/>
<rect x="241" y="526.5" width="1" height="3.3" fill="#009900"/>
<rect x="243" y="526.5" width="1" height="3.8" fill="#009900"/>
<rect x="245" y="526.5" width="1" height="1.9" fill="#009900"/>
<rect x="249" y="525.0" width="1" height="1.5" fill="#009900"/>
<rect x="251" y="523.4" width="1" height="3.1" fill="#009900"/>
<rect x="253" y="523.1" width="1" height="3.4" fill="#009900"/>
<rect x="255" y="523.1" width="1" height="3.4" fill="#009900"/>
<rect x="257" y="524.1" width="1" height="2.4" fill="#009900"/>
<rect x="259" y="524.5" width="1" height="2.0" fill="#009900"/>
<rect x="261" y="525.1" width="1" height="1.4" fill="#009900"/>
<rect x="265" y="526.5" width="1" height="1.0" fill="#009900"/>
<rect x="267" y="526.5" width="1" height="2.1" fill="#009900"/>
<rect x="269" y="526.5" width="1" height="2.7" fill="#009900"/>
<rect x="271" y="526.5" width="1" height="3.3" fill="#009900"/>
<rect x="273" y="526.5" width="1" height="3.4" fill="#009900"/>
<rect x="275" y="526.5" width="1" height="3.0" fill="#009900"/>
<rect x="277" y="526.5" width="1" height="4.2" fill="#009900"/>
<rect x="279" y="526.5" width="1" height="6.4" fill="#009900"/>
<rect x="281" y="526.5" width="1" height="6.5" fill="#009900"/>
<rect x="283" y="526.5" width="1" height="5.8" fill="#009900"/>
<rect x="285" y="526.5" width="1" height="6.3" fill="#009900"/>
<rect x="287" y="526.5" width="1" height="6.6" fill="#009900"/>
<rect x="289" y="526.5" width="1" height="8.3" fill="#009900"/>
<rect x="291" y="526.5" width="1" height="9.9" fill="#009900"/>
<rect x="293" y="526.5" width="1" height="11.5" fill="#009900"/>
<rect x="295" y="526.5" width="1" height="13.3" fill="#009900"/>
<rect x="297" y="526.5" width="1" height="9.1" fill="#009900"/>
<rect x="299" y="526.5" width="1" height="4.9" fill="#009900"/>
<rect x="303" y="522.0" width="1" height="4.5" fill="#009900"/>
<rect x="305" y="519.8" width="1" height="6.8" fill="#009900"/>
<rect x="307" y="517.8" width="1" height="8.8" fill="#009900"/>
<rect x="309" y="516.1" width="1" height="10.4" fill="#009900"/>
<rect x="311" y="514.9" width="1" height="11.6" fill="#009900"/>
<rect x="313" y="513.6" width="1" height="12.9" fill="#009900"/>
<rect x="315" y="516.8" width="1" height="9.7" fill="#009900"/>
<rect x="317" y="520.6" width="1" height="5.9" fill="#009900"/>
<rect x="319" y="524.4" width="1" height="2.1" fill="#009900"/>
<rect x="325" y="526.5" width="1" height="0.6" fill="#009900"/>
<rect x="327" y="526.5" width="1" height="4.4" fill="#009900"/>
<rect x="329" y="526.5" width="1" height="7.4" fill="#009900"/>
<rect x="331" y="526.5" width="1" height="9.2" fill="#009900"/>
<rect x="333" y="526.5" width="1" height="10.6" fill="#009900"/>
<rect x="335" y="526.5" width="1" height="11.4" fill="#009900"/>
<rect x="337" y="526.5" width="1" height="11.6" fill="#009900"/>
<rect x="339" y="526.5" width="1" height="11.7" fill="#009900"/>
<rect x="341" y="526.5" width="1" height="11.7" fill="#009900"/>
<rect x="343" y="526.5" width="1" height="11.7" fill="#009900"/>
<rect x="345" y="526.5" width="1" height="12.1" fill="#009900"/>
<rect x="347" y="526.5" width="1" height="8.2" fill="#009900"/>
<rect x="349" y="526.5" width="1" height="2.2" fill="#009900"/>
<rect x="351" y="523.8" width="1" height="2.8" fill="#009900"/>
<rect x="353" y="521.6" width="1" height="4.9" fill="#009900"/>
<rect x="355" y="520.3" width="1" height="6.2" fill="#009900"/>
<rect x="357" y="519.4" width="1" height="7.1" fill="#009900"/>
<rect x="359" y="518.4" width="1" height="8.1" fill="#009900"/>
<rect x="361" y="518.9" width="1" height="7.6" fill="#009900"/>
<rect x="363" y="519.6" width="1" height="6.9" fill="#009900"/>
<rect x="365" y="520.7" width="1" height="5.8" fill="#009900"/>
<rect x="367" y="522.5" width="1" height="4.0" fill="#009900"/>
<rect x="369" y="524.3" width="1" height="2.2" fill="#009900"/>
<rect x="371" y="524.9" width="1" height="1.6" fill="#009900"/>
<rect x="373" y="524.8" width="1" height="1.7" fill="#009900"/>
<rect x="375" y="524.7" width="1" height="1.8" fill="#009900"/>
<rect x="377" y="524.6" width="1" height="1.9" fill="#009900"/>
<rect x="379" y="524.8" width="1" height="1.7" fill="#009900"/>
<rect x="381" y="524.8" width="1" height="1.7" fill="#009900"/>
<rect x="383" y="524.8" width="1" height="1.7" fill="#009900"/>
<rect x="385" y="524.9" width="1" height="1.6" fill="#009900"/>
<rect x="387" y="525.4" width="1" height="1.1" fill="#009900"/>
<rect x="393" y="524.6" width="1" height="1.9" fill="#009900"/>
<rect x="395" y="523.6" width="1" height="2.9" fill="#009900"/>
<rect x="397" y="522.0" width="1" height="4.5" fill="#009900"/>
<rect x="399" y="520.2" width="1" height="6.3" fill="#009900"/>
<rect x="401" y="519.0" width="1" height="7.5" fill="#009900"/>
<rect x="403" y="521.1" width="1" height="5.4" fill="#009900"/>
<rect x="405" y="522.8" width="1" height="3.7" fill="#009900"/>
<rect x="407" y="523.4" width="1" height="3.1" fill="#009900"/>
<rect x="408" y="523.4" width="1" height="3.1" fill="#009900"/>
<rect x="410" y="523.4" width="1" height="3.1" fill="#009900"/>
<rect x="412" y="523.0" width="1" height="3.5" fill="#009900"/>
<rect x="414" y="522.2" width="1" height="4.3" fill="#009900"/>
<rect x="416" y="521.5" width="1" height="5.0" fill="#009900"/>
<rect x="418" y="521.0" width="1" height="5.5" fill="#009900"/>
<rect x="420" y="520.6" width="1" height="5.9" fill="#009900"/>
<rect x="422" y="521.3" width="1" height="5.2" fill="#009900"/>
<rect x="424" y="522.1" width="1" height="4.4" fill="#009900"/>
<rect x="426" y="522.9" width="1" height="3.6" fill="#009900"/>
<rect x="428" y="524.5" width="1" height="2.0" fill="#009900"/>
<rect x="430" y="525.3" width="1" height="1.2" fill="#009900"/>
<rect x="434" y="526.5" width="1" height="1.3" fill="#009900"/>
<rect x="436" y="526.5" width="1" height="1.8" fill="#009900"/>
<rect x="438" y="526.5" width="1" height="3.5" fill="#009900"/>
<rect x="440" y="526.5" width="1" height="4.6" fill="#009900"/>
<rect x="442" y="526.5" width="1" height="5.6" fill="#009900"/>
<rect x="444" y="526.5" width="1" height="6.7" fill="#009900"/>
<rect x="446" y="526.5" width="1" height="7.9" fill="#009900"/>
<rect x="448" y="526.5" width="1" height="7.5" fill="#009900"/>
<rect x="450" y="526.5" width="1" height="5.0" fill="#009900"/>
<rect x="452" y="526.5" width="1" height="2.4" fill="#009900"/>
<rect x="456" y="525.1" width="1" height="1.4" fill="#009900"/>
<rect x="458" y="523.6" width="1" height="2.9" fill="#009900"/>
<rect x="460" y="522.7" width="1" height="3.8" fill="#009900"/>
<rect x="462" y="520.9" width="1" height="5.6" fill="#009900"/>
<rect x="464" y="518.8" width="1" height="7.8" fill="#009900"/>
<rect x="466" y="518.2" width="1" height="8.2" fill="#009900"/>
<rect x="468" y="518.2" width="1" height="8.2" fill="#009900"/>
<rect x="470" y="520.5" width="1" height="6.0" fill="#009900"/>
<rect x="472" y="524.4" width="1" height="2.1" fill="#009900"/>
<rect x="474" y="526.5" width="1" height="0.7" fill="#009900"/>
<rect x="476" y="526.5" width="1" height="0.6" fill="#009900"/>
<rect x="478" y="526.5" width="1" height="0.8" fill="#009900"/>
<rect x="480" y="526.5" width="1" height="1.4" fill="#009900"/>
<rect x="482" y="526.5" width="1" height="1.2" fill="#009900"/>
<rect x="496" y="525.6" width="1" height="0.9" fill="#009900"/>
<rect x="498" y="526.5" width="1" height="0.7" fill="#009900"/>
<rect x="500" y="526.5" width="1" height="1.8" fill="#009900"/>
<rect x="502" y="526.5" width="1" height="1.9" fill="#009900"/>
<rect x="504" y="526.5" width="1" height="1.5" fill="#009900"/>
<rect x="506" y="526.5" width="1" height="0.8" fill="#009900"/>
<rect x="510" y="524.6" width="1" height="1.9" fill="#009900"/>
<rect x="512" y="523.2" width="1" height="3.2" fill="#009900"/>
<rect x="514" y="522.0" width="1" height="4.5" fill="#009900"/>
<rect x="516" y="522.8" width="1" height="3.7" fill="#009900"/>
<rect x="518" y="524.0" width="1" height="2.5" fill="#009900"/>
<rect x="520" y="525.4" width="1" height="1.1" fill="#009900"/>
<rect x="524" y="526.5" width="1" height="1.0" fill="#009900"/>
<rect x="526" y="526.5" width="1" height="2.1" fill="#009900"/>
<rect x="528" y="526.5" width="1" height="2.8" fill="#009900"/>
<rect x="530" y="526.5" width="1" height="4.1" fill="#009900"/>
<rect x="532" y="526.5" width="1" height="6.2" fill="#009900"/>
<rect x="534" y="526.5" width="1" height="2.2" fill="#009900"/>
<rect x="536" y="522.2" width="1" height="4.2" fill="#009900"/>
<rect x="538" y="514.9" width="1" height="11.6" fill="#009900"/>
<rect x="540" y="510.2" width="1" height="16.2" fill="#009900"/>
<rect x="542" y="510.2" width="1" height="16.2" fill="#009900"/>
<rect x="544" y="509.9" width="1" height="16.6" fill="#009900"/>
<rect x="546" y="513.1" width="1" height="13.4" fill="#009900"/>
<rect x="548" y="518.7" width="1" height="7.8" fill="#009900"/>
<rect x="550" y="522.3" width="1" height="4.2" fill="#009900"/>
<rect x="552" y="523.3" width="1" height="3.2" fill="#009900"/>
<rect x="554" y="523.0" width="1" height="3.5" fill="#009900"/>
<rect x="556" y="522.8" width="1" height="3.8" fill="#009900"/>
<rect x="558" y="522.1" width="1" height="4.4" fill="#009900"/>
<rect x="560" y="524.8" width="1" height="1.7" fill="#009900"/>
<rect x="562" y="526.5" width="1" height="0.7" fill="#009900"/>
<rect x="564" y="526.5" width="1" height="3.1" fill="#009900"/>
<rect x="566" y="526.5" width="1" height="3.7" fill="#009900"/>
<rect x="568" y="526.5" width="1" height="4.0" fill="#009900"/>
<rect x="570" y="526.5" width="1" height="2.9" fill="#009900"/>
<rect x="572" y="526.5" width="1" height="2.0" fill="#009900"/>
<rect x="574" y="526.5" width="1" height="1.1" fill="#009900"/>
<rect x="578" y="525.8" width="1" height="0.7" fill="#009900"/>
<rect x="580" y="524.7" width="1" height="1.8" fill="#009900"/>
<rect x="582" y="523.5" width="1" height="3.0" fill="#009900"/>
<rect x="584" y="521.9" width="1" height="4.6" fill="#009900"/>
<rect x="586" y="520.9" width="1" height="5.6" fill="#009900"/>
<rect x="588" y="520.8" width="1" height="5.7" fill="#009900"/>
<rect x="590" y="521.1" width="1" height="5.4" fill="#009900"/>
<rect x="592" y="524.0" width="1" height="2.5" fill="#009900"/>
<rect x="596" y="526.5" width="1" height="3.8" fill="#009900"/>
<rect x="598" y="526.5" width="1" height="4.5" fill="#009900"/>
<rect x="600" y="526.5" width="1" height="5.3" fill="#009900"/>
<rect x="602" y="526.5" width="1" height="6.9" fill="#009900"/>
<rect x="604" y="526.5" width="1" height="7.6" fill="#009900"/>
<rect x="606" y="526.5" width="1" height="6.7" fill="#009900"/>
<rect x="608" y="526.5" width="1" height="4.1" fill="#009900"/>
<rect x="610" y="526.5" width="1" height="1.1" fill="#009900"/>
<rect x="612" y="524.5" width="1" height="2.0" fill="#009900"/>
<rect x="614" y="522.0" width="1" height="4.5" fill="#009900"/>
<rect x="616" y="520.4" width="1" height="6.1" fill="#009900"/>
<rect x="618" y="519.6" width="1" height="6.9" fill="#009900"/>
<rect x="620" y="519.3" width="1" height="7.2" fill="#009900"/>
<rect x="622" y="519.7" width="1" height="6.8" fill="#009900"/>
<rect x="624" y="520.0" width="1" height="6.5" fill="#009900"/>
<rect x="626" y="521.0" width="1" height="5.4" fill="#009900"/>
<rect x="628" y="522.0" width="1" height="4.6" fill="#009900"/>
<rect x="630" y="523.0" width="1" height="3.5" fill="#009900"/>
<rect x="632" y="524.2" width="1" height="2.3" fill="#009900"/>
<rect x="634" y="525.1" width="1" height="1.4" fill="#009900"/>
<rect x="638" y="526.5" width="1" height="2.2" fill="#009900"/>
<rect x="640" y="526.5" width="1" height="3.7" fill="#009900"/>
<rect x="642" y="526.5" width="1" height="4.7" fill="#009900"/>
<rect x="644" y="526.5" width="1" height="4.5" fill="#009900"/>
<rect x="646" y="526.5" width="1" height="2.2" fill="#009900"/>
<rect x="650" y="523.8" width="1" height="2.7" fill="#009900"/>
<rect x="652" y="522.1" width="1" height="4.4" fill="#009900"/>
<rect x="654" y="523.4" width="1" height="3.1" fill="#009900"/>
<rect x="656" y="525.5" width="1" height="1.0" fill="#009900"/>
<rect x="658" y="526.5" width="1" height="0.7" fill="#009900"/>
<rect x="660" y="526.5" width="1" height="2.0" fill="#009900"/>
<rect x="662" y="526.5" width="1" height="1.9" fill="#009900"/>
<rect x="664" y="526.5" width="1" height="1.5" fill="#009900"/>
<rect x="666" y="526.5" width="1" height="0.6" fill="#009900"/>
<rect x="670" y="526.5" width="1" height="1.2" fill="#009900"/>
<rect x="672" y="526.5" width="1" height="0.8" fill="#009900"/>
<rect x="676" y="526.5" width="1" height="2.2" fill="#009900"/>
<rect x="678" y="526.5" width="1" height="4.9" fill="#009900"/>
<rect x="680" y="526.5" width="1" height="6.2" fill="#009900"/>
<rect x="682" y="526.5" width="1" height="6.5" fill="#009900"/>
<rect x="684" y="526.5" width="1" height="6.5" fill="#009900"/>
<rect x="686" y="526.5" width="1" height="4.6" fill="#009900"/>
<rect x="688" y="526.5" width="1" height="2.7" fill="#009900"/>
<rect x="690" y="526.5" width="1" height="1.0" fill="#009900"/>
<rect x="692" y="525.7" width="1" height="0.8" fill="#009900"/>
<rect x="694" y="524.0" width="1" height="2.5" fill="#009900"/>
<rect x="696" y="522.8" width="1" height="3.7" fill="#009900"/>
<rect x="698" y="522.8" width="1" height="3.7" fill="#009900"/>
<rect x="700" y="523.0" width="1" height="3.5" fill="#009900"/>
<rect x="702" y="524.7" width="1" height="1.8" fill="#009900"/>
<rect x="706" y="526.5" width="1" height="1.6" fill="#009900"/>
<rect x="708" y="526.5" width="1" height="3.3" fill="#009900"/>
<rect x="710" y="526.5" width="1" height="4.5" fill="#009900"/>
<rect x="712" y="526.5" width="1" height="4.6" fill="#009900"/>
<rect x="714" y="526.5" width="1" height="4.6" fill="#009900"/>
<rect x="716" y="526.5" width="1" height="2.8" fill="#009900"/>
<rect x="718" y="525.8" width="1" height="0.7" fill="#009900"/>
<rect x="18" y="526" width="701" height="1" fill="#000"/>
</g>
<path d="M20.0,508.2 C20.9,507.8 23.2,506.5 25.0,505.8 C26.8,505.0 28.2,505.1 30.0,504.2 C31.8,503.4 33.2,502.3 35.0,501.2 C36.8,500.2 38.4,498.7 40.0,498.2 C41.6,497.8 42.2,498.1 43.8,498.8 C45.3,499.4 47.2,501.2 48.8,502.0 C50.3,502.8 51.1,503.6 52.5,503.2 C53.9,502.9 54.7,501.5 56.2,500.0 C57.8,498.5 59.5,496.0 61.2,495.0 C63.0,494.0 64.5,494.3 66.2,494.5 C68.0,494.7 69.5,495.0 71.2,496.2 C73.0,497.5 74.5,499.7 76.2,501.2 C78.0,502.8 79.5,504.6 81.2,505.0 C83.0,505.4 84.5,503.8 86.2,503.2 C88.0,502.7 89.5,502.8 91.2,502.0 C93.0,501.2 94.5,499.5 96.2,498.8 C98.0,498.0 99.5,498.2 101.2,498.0 C103.0,497.8 104.5,498.0 106.2,497.5 C108.0,497.0 109.2,495.7 111.2,495.0 C113.3,494.3 115.5,494.1 117.5,493.8 C119.5,493.4 120.7,493.0 122.5,493.2 C124.3,493.5 125.7,494.2 127.5,495.0 C129.3,495.8 130.7,496.7 132.5,497.5 C134.3,498.3 135.9,497.9 137.5,499.5 C139.1,501.1 139.9,503.2 141.2,506.2 C142.6,509.3 143.7,512.9 145.0,516.2 C146.3,519.6 147.4,522.3 148.8,525.0 C150.1,527.7 151.2,529.4 152.5,531.2 C153.8,533.1 154.9,534.3 156.2,535.5 C157.6,536.7 158.7,537.6 160.0,538.0 C161.3,538.4 162.4,538.5 163.8,537.5 C165.1,536.5 166.2,534.0 167.5,532.5 C168.8,531.0 169.9,529.5 171.2,529.2 C172.6,529.0 173.7,530.0 175.0,531.2 C176.3,532.5 177.8,535.5 178.8,536.2 C179.7,537.0 178.9,535.0 180.0,535.5 C181.1,536.0 183.2,537.9 185.0,538.8 C186.8,539.6 188.2,539.3 190.0,540.0 C191.8,540.7 193.2,541.6 195.0,542.5 C196.8,543.4 198.0,544.0 200.0,545.0 C202.0,546.0 204.2,547.8 206.2,548.0 C208.3,548.2 209.4,547.0 211.2,546.2 C213.1,545.5 214.2,544.4 216.2,543.8 C218.3,543.1 220.2,543.4 222.5,542.5 C224.8,541.6 226.7,540.2 228.8,538.8 C230.8,537.3 231.7,535.4 233.8,534.5 C235.8,533.6 237.8,533.4 240.0,533.8 C242.2,534.1 244.0,536.2 246.2,536.2 C248.5,536.2 250.5,534.9 252.5,533.8 C254.5,532.6 255.7,530.8 257.5,530.0 C259.3,529.2 260.7,529.5 262.5,529.5 C264.3,529.5 265.5,529.5 267.5,530.0 C269.5,530.5 271.5,531.0 273.8,532.0 C276.0,533.0 278.0,534.0 280.0,535.5 C282.0,537.0 283.2,538.6 285.0,540.5 C286.8,542.4 288.2,544.1 290.0,546.2 C291.8,548.4 293.2,550.6 295.0,552.5 C296.8,554.4 298.4,556.3 300.0,556.8 C301.6,557.2 302.2,556.8 303.8,555.0 C305.3,553.2 306.9,549.6 308.8,547.0 C310.6,544.4 311.9,542.3 313.8,540.5 C315.6,538.7 316.9,537.5 318.8,537.0 C320.6,536.5 321.9,536.8 323.8,537.5 C325.6,538.2 326.9,538.9 328.8,540.8 C330.6,542.6 331.9,545.2 333.8,548.0 C335.6,550.8 336.9,553.3 338.8,556.2 C340.6,559.2 341.9,562.1 343.8,564.5 C345.6,566.9 347.2,568.8 348.8,569.5 C350.3,570.2 350.9,569.3 352.5,568.2 C354.1,567.2 356.1,564.9 357.5,563.8 C358.9,562.6 358.6,563.1 360.0,562.0 C361.4,560.9 363.0,558.8 365.0,557.5 C367.0,556.2 369.0,555.7 371.2,555.0 C373.5,554.3 375.0,554.4 377.5,553.8 C380.0,553.1 382.3,551.8 385.0,551.2 C387.7,550.7 390.2,551.2 392.5,550.5 C394.8,549.8 395.5,548.9 397.5,547.5 C399.5,546.1 401.5,544.4 403.8,543.0 C406.0,541.6 407.8,541.2 410.0,540.0 C412.2,538.8 414.0,537.8 416.2,536.2 C418.5,534.7 420.2,532.7 422.5,531.2 C424.8,529.8 426.7,528.6 428.8,528.0 C430.8,527.4 431.9,527.4 433.8,528.0 C435.6,528.6 436.9,529.8 438.8,531.2 C440.6,532.7 441.9,534.6 443.8,536.2 C445.6,537.9 446.9,539.6 448.8,540.5 C450.6,541.4 451.9,541.6 453.8,541.2 C455.6,540.9 456.9,540.0 458.8,538.8 C460.6,537.5 461.9,536.2 463.8,534.5 C465.6,532.8 466.9,530.7 468.8,529.5 C470.6,528.3 471.7,528.0 473.8,528.0 C475.8,528.0 477.8,529.1 480.0,529.5 C482.2,529.9 484.0,530.0 486.2,530.0 C488.5,530.0 490.2,529.5 492.5,529.5 C494.8,529.5 496.5,529.7 498.8,530.0 C501.0,530.3 503.0,531.2 505.0,531.2 C507.0,531.2 508.0,530.7 510.0,530.0 C512.0,529.3 514.2,528.2 516.2,527.5 C518.3,526.8 519.5,526.2 521.2,526.2 C523.0,526.3 524.5,527.1 526.2,528.0 C528.0,528.9 529.7,530.7 531.2,531.2 C532.8,531.8 533.6,532.1 535.0,531.2 C536.4,530.4 537.9,527.6 538.8,526.2 C539.6,524.9 539.3,525.1 540.0,523.8 C540.7,522.4 541.4,520.5 542.5,518.8 C543.6,517.0 544.7,515.2 546.2,513.8 C547.8,512.3 549.5,511.5 551.2,510.5 C553.0,509.5 554.5,508.6 556.2,508.0 C558.0,507.4 559.5,506.6 561.2,507.0 C563.0,507.4 564.5,509.1 566.2,510.0 C568.0,510.9 569.2,511.6 571.2,512.0 C573.3,512.5 575.2,512.9 577.5,512.5 C579.8,512.1 581.7,511.1 583.8,510.0 C585.8,508.9 587.2,507.2 588.8,506.2 C590.3,505.3 591.1,504.5 592.5,504.5 C593.9,504.5 594.7,505.0 596.2,506.2 C597.8,507.5 599.5,509.6 601.2,511.2 C603.0,512.9 604.5,514.5 606.2,515.5 C608.0,516.5 609.5,517.2 611.2,517.0 C613.0,516.8 614.5,515.8 616.2,514.5 C618.0,513.2 619.5,511.5 621.2,510.0 C623.0,508.5 624.5,507.4 626.2,506.2 C628.0,505.1 629.5,504.3 631.2,503.8 C633.0,503.2 634.5,502.9 636.2,503.0 C638.0,503.1 639.5,503.9 641.2,504.5 C643.0,505.1 644.5,506.2 646.2,506.2 C648.0,506.3 649.5,505.7 651.2,505.0 C653.0,504.3 654.5,502.8 656.2,502.5 C658.0,502.2 659.5,502.9 661.2,503.2 C663.0,503.6 664.5,504.1 666.2,504.5 C668.0,504.9 669.7,505.2 671.2,505.5 C672.8,505.8 673.6,505.5 675.0,506.2 C676.4,507.0 677.2,508.0 678.8,509.5 C680.3,511.0 682.0,513.3 683.8,514.5 C685.5,515.7 687.0,516.2 688.8,516.2 C690.5,516.3 692.0,515.7 693.8,515.0 C695.5,514.3 697.0,513.2 698.8,512.5 C700.5,511.8 702.0,511.2 703.8,511.2 C705.5,511.3 707.0,512.1 708.8,513.0 C710.5,513.9 712.0,515.4 713.8,516.2 C715.5,517.1 717.9,517.3 718.8,517.5" fill="none" stroke="#ff0000" stroke-width="1.05" stroke-linejoin="round"/>
<path d="M20.0,505.0 C20.5,504.5 22.1,502.3 23.0,502.0 C23.9,501.7 24.3,503.4 25.0,503.2 C25.7,503.1 26.2,501.4 27.0,501.2 C27.8,501.1 28.5,502.5 29.5,502.5 C30.5,502.5 31.3,502.1 32.5,501.2 C33.7,500.4 34.7,499.4 36.2,498.0 C37.8,496.6 39.9,493.8 41.2,493.8 C42.6,493.7 42.9,495.7 43.8,497.5 C44.6,499.3 45.1,501.8 46.2,503.8 C47.4,505.7 48.8,508.0 50.0,508.2 C51.2,508.5 51.9,507.4 53.0,505.0 C54.1,502.6 55.1,498.2 56.2,495.0 C57.4,491.8 58.4,487.7 59.5,487.0 C60.6,486.3 61.4,489.8 62.5,491.2 C63.6,492.7 64.4,494.3 65.5,495.0 C66.6,495.7 67.5,493.9 68.8,495.0 C70.0,496.1 71.2,498.9 72.5,501.2 C73.8,503.6 75.0,506.2 76.2,508.0 C77.5,509.8 78.4,511.3 79.5,511.2 C80.6,511.2 81.3,508.9 82.5,507.5 C83.7,506.1 84.9,504.2 86.2,503.2 C87.6,502.3 88.8,503.3 90.0,502.0 C91.2,500.7 92.0,498.1 93.0,496.2 C94.0,494.4 94.6,491.8 95.5,491.8 C96.4,491.7 97.0,494.6 98.0,495.8 C99.0,496.9 100.0,497.8 101.2,498.0 C102.5,498.2 103.7,497.8 105.0,497.0 C106.3,496.2 107.5,494.6 108.8,493.8 C110.0,492.9 110.7,492.0 112.0,492.0 C113.3,492.0 114.6,493.6 116.2,493.8 C117.9,493.9 119.7,492.4 121.2,493.0 C122.8,493.6 123.7,495.6 125.0,497.0 C126.3,498.4 127.4,500.3 128.8,500.8 C130.1,501.2 131.2,500.3 132.5,499.5 C133.8,498.7 134.6,495.5 135.8,496.2 C136.9,497.0 137.9,499.5 138.8,503.8 C139.6,508.0 139.8,515.3 140.5,520.0 C141.2,524.7 141.5,526.9 142.5,530.0 C143.5,533.1 144.9,535.0 146.2,537.5 C147.6,540.0 148.7,542.2 150.0,543.8 C151.3,545.3 152.4,546.2 153.8,546.2 C155.1,546.2 156.2,544.6 157.5,543.8 C158.8,542.9 160.1,543.0 161.2,541.2 C162.4,539.5 162.8,536.5 163.8,533.8 C164.7,531.0 165.2,528.6 166.2,526.2 C167.3,523.9 168.4,520.8 169.5,520.8 C170.6,520.8 171.5,523.7 172.5,526.2 C173.5,528.8 173.9,532.1 175.0,535.0 C176.1,537.9 177.4,540.2 178.8,542.5 C180.1,544.8 181.6,546.7 182.5,547.5 C183.4,548.3 182.8,548.4 183.8,547.0 C184.7,545.6 186.2,541.1 187.5,540.0 C188.8,538.9 189.9,539.5 191.2,540.8 C192.6,542.0 193.7,546.0 195.0,547.0 C196.3,548.0 197.2,545.3 198.8,546.2 C200.3,547.2 202.2,552.3 203.8,552.5 C205.3,552.7 205.9,550.1 207.5,547.5 C209.1,544.9 210.7,538.8 212.5,538.0 C214.3,537.2 215.9,542.4 217.5,543.2 C219.1,544.1 219.9,542.9 221.2,542.5 C222.6,542.1 223.4,542.8 225.0,541.2 C226.6,539.7 228.1,536.2 230.0,533.8 C231.9,531.3 233.9,527.7 235.5,527.5 C237.1,527.3 237.5,530.3 238.8,532.5 C240.0,534.7 241.2,538.6 242.5,539.5 C243.8,540.4 244.7,539.0 246.2,537.5 C247.8,536.0 249.4,533.0 251.2,531.2 C253.1,529.5 254.4,528.1 256.2,527.5 C258.1,526.9 259.4,527.3 261.2,528.0 C263.1,528.7 264.4,530.1 266.2,531.2 C268.1,532.4 269.4,533.6 271.2,534.5 C273.1,535.4 274.7,534.8 276.2,536.2 C277.8,537.7 278.6,540.9 280.0,542.5 C281.4,544.1 282.4,543.6 283.8,545.0 C285.1,546.4 286.1,547.8 287.5,550.0 C288.9,552.2 289.8,554.6 291.2,557.5 C292.7,560.4 294.0,565.6 295.5,566.2 C297.0,566.9 298.0,564.2 299.5,561.2 C301.0,558.3 302.1,554.4 303.8,550.0 C305.4,545.6 306.9,541.0 308.8,537.0 C310.6,533.0 312.2,528.4 313.8,527.5 C315.3,526.6 316.1,530.2 317.5,532.0 C318.9,533.8 319.9,536.4 321.2,537.5 C322.6,538.6 323.6,536.2 325.0,538.0 C326.4,539.8 327.4,544.2 328.8,547.5 C330.1,550.8 331.1,553.3 332.5,556.2 C333.9,559.2 334.9,561.3 336.2,563.8 C337.6,566.2 338.6,567.8 340.0,570.0 C341.4,572.2 342.6,574.6 343.8,576.2 C344.9,577.9 345.4,579.7 346.2,579.2 C347.1,578.8 347.9,576.1 348.8,573.8 C349.6,571.4 350.1,568.7 351.2,566.2 C352.4,563.8 353.6,562.0 355.0,560.0 C356.4,558.0 357.9,556.1 358.8,555.0 C359.6,553.9 358.9,554.4 360.0,553.8 C361.1,553.1 363.2,551.2 365.0,551.2 C366.8,551.2 368.2,553.5 370.0,553.8 C371.8,554.0 373.2,553.0 375.0,552.5 C376.8,552.0 378.2,551.8 380.0,551.2 C381.8,550.7 383.0,549.6 385.0,549.5 C387.0,549.4 389.2,551.3 391.2,550.5 C393.3,549.7 394.4,547.4 396.2,545.0 C398.1,542.6 399.4,538.1 401.2,537.0 C403.1,535.9 404.4,538.9 406.2,538.8 C408.1,538.6 409.4,537.6 411.2,536.2 C413.1,534.9 414.4,533.0 416.2,531.2 C418.1,529.5 419.4,527.3 421.2,526.2 C423.1,525.2 424.4,525.4 426.2,525.5 C428.1,525.6 429.4,526.0 431.2,527.0 C433.1,528.0 434.4,529.1 436.2,531.2 C438.1,533.4 439.4,536.0 441.2,538.8 C443.1,541.5 445.0,544.5 446.2,546.2 C447.5,548.0 447.1,548.5 448.0,548.2 C448.9,548.0 449.8,546.7 451.2,545.0 C452.7,543.3 454.4,541.0 456.2,538.8 C458.1,536.5 459.7,535.0 461.2,532.5 C462.8,530.0 463.6,527.0 465.0,525.0 C466.4,523.0 467.6,521.5 468.8,521.2 C469.9,521.0 470.4,522.4 471.2,523.8 C472.1,525.1 472.6,527.7 473.8,528.8 C474.9,529.8 476.1,529.0 477.5,529.5 C478.9,530.0 479.7,531.2 481.2,531.2 C482.8,531.3 484.4,530.2 486.2,530.0 C488.1,529.8 489.4,530.2 491.2,530.0 C493.1,529.8 494.7,528.4 496.2,528.8 C497.8,529.1 498.6,531.2 500.0,532.0 C501.4,532.8 502.4,533.1 503.8,533.0 C505.1,532.9 506.1,532.3 507.5,531.2 C508.9,530.2 509.9,528.4 511.2,527.0 C512.6,525.6 513.4,523.6 515.0,523.2 C516.6,522.9 518.2,524.0 520.0,525.0 C521.8,526.0 523.4,527.4 525.0,528.8 C526.6,530.1 527.4,530.9 528.8,532.5 C530.1,534.1 531.4,537.5 532.5,537.5 C533.6,537.5 534.1,535.6 535.0,532.5 C535.9,529.4 536.6,524.5 537.5,520.0 C538.4,515.5 539.1,510.6 540.0,507.5 C540.9,504.4 541.5,504.2 542.5,502.5 C543.5,500.8 544.4,497.6 545.5,498.0 C546.6,498.4 547.7,503.3 548.8,505.0 C549.8,506.7 550.1,507.5 551.2,507.5 C552.4,507.5 553.6,505.8 555.0,505.0 C556.4,504.2 557.5,502.6 558.8,503.0 C560.0,503.4 560.9,505.7 562.0,507.5 C563.1,509.3 563.8,511.6 565.0,513.0 C566.2,514.4 567.2,514.9 568.8,515.0 C570.3,515.1 572.0,514.4 573.8,513.8 C575.5,513.1 577.2,512.4 578.8,511.2 C580.3,510.1 581.1,509.1 582.5,507.5 C583.9,505.9 584.9,503.9 586.2,502.5 C587.6,501.1 588.8,499.5 590.0,499.5 C591.2,499.5 591.9,500.6 593.0,502.5 C594.1,504.4 595.0,507.8 596.2,510.0 C597.5,512.2 598.6,513.0 600.0,515.0 C601.4,517.0 602.6,519.9 603.8,521.2 C604.9,522.6 605.1,523.0 606.2,522.5 C607.4,522.0 608.4,521.0 610.0,518.8 C611.6,516.5 613.2,512.7 615.0,510.0 C616.8,507.3 618.2,505.4 620.0,503.8 C621.8,502.1 623.2,501.3 625.0,500.8 C626.8,500.2 628.2,500.3 630.0,500.5 C631.8,500.7 633.2,500.7 635.0,502.0 C636.8,503.3 638.4,505.9 640.0,507.5 C641.6,509.1 642.4,510.8 643.8,510.8 C645.1,510.8 646.1,509.2 647.5,507.5 C648.9,505.8 650.3,502.7 651.2,501.2 C652.2,499.8 652.1,499.5 653.0,499.5 C653.9,499.5 655.0,500.3 656.2,501.2 C657.5,502.2 658.6,504.2 660.0,505.0 C661.4,505.8 662.4,505.8 663.8,505.8 C665.1,505.8 666.1,504.8 667.5,505.0 C668.9,505.2 669.9,506.9 671.2,507.0 C672.6,507.1 673.9,504.8 675.0,505.8 C676.1,506.7 676.4,510.2 677.5,512.5 C678.6,514.8 680.0,517.2 681.2,518.8 C682.5,520.3 683.1,521.2 684.5,521.2 C685.9,521.2 687.3,520.0 688.8,518.8 C690.2,517.5 691.1,516.1 692.5,514.5 C693.9,512.9 694.9,511.1 696.2,510.0 C697.6,508.9 698.6,508.2 700.0,508.2 C701.4,508.3 702.4,509.3 703.8,510.5 C705.1,511.7 706.1,513.4 707.5,515.0 C708.9,516.6 709.9,518.4 711.2,519.5 C712.6,520.6 713.9,521.4 715.0,521.2 C716.1,521.1 716.8,519.6 717.5,518.8 C718.2,517.9 718.5,516.7 718.8,516.2" fill="none" stroke="#0000dd" stroke-width="1.05" stroke-linejoin="round"/>
<g shape-rendering="crispEdges">
<rect x="5.5" y="471.5" width="735" height="110" fill="none" stroke="#404040" stroke-width="1"/>
<rect x="740" y="494" width="4" height="1" fill="#404040"/>
<rect x="740" y="510" width="4" height="1" fill="#404040"/>
<rect x="740" y="526" width="4" height="1" fill="#404040"/>
<rect x="740" y="542" width="4" height="1" fill="#404040"/>
<rect x="740" y="558" width="4" height="1" fill="#404040"/>
<rect x="740" y="574" width="4" height="1" fill="#404040"/>
</g>
<text transform="translate(0,498) scale(1,0.94)" x="746.20 752.20" y="0" font-size="10.6" fill="#000" stroke="#000" stroke-width="0.2">10</text>
<text transform="translate(0,514) scale(1,0.94)" x="745.60" y="0" font-size="10.6" fill="#000" stroke="#000" stroke-width="0.2">5</text>
<text transform="translate(0,530) scale(1,0.94)" x="745.60" y="0" font-size="10.6" fill="#000" stroke="#000" stroke-width="0.2">0</text>
<text transform="translate(0,546) scale(1,0.94)" x="745.60 749.60" y="0" font-size="10.6" fill="#000" stroke="#000" stroke-width="0.2">-5</text>
<text transform="translate(0,562) scale(1,0.94)" x="745.60 749.60 755.60" y="0" font-size="10.6" fill="#000" stroke="#000" stroke-width="0.2">-10</text>
<text transform="translate(0,578) scale(1,0.94)" x="745.60 749.60 755.60" y="0" font-size="10.6" fill="#000" stroke="#000" stroke-width="0.2">-15</text>
<rect x="0.5" y="0.5" width="799" height="599" fill="none" stroke="#000" stroke-width="1" shape-rendering="crispEdges"/>
<rect x="5.5" y="4.5" width="64" height="14" fill="#fff" stroke="#444" stroke-width="1" shape-rendering="crispEdges"/>
<rect x="8" y="11" width="11" height="1" fill="#6600cc" shape-rendering="crispEdges"/>
<text transform="translate(21.5,15) scale(1.1463,1)" font-size="9.2" fill="#6600cc" stroke="#6600cc" stroke-width="0.12">דיסקונט א</text>
<rect x="5.5" y="22.5" width="404" height="15" fill="#fff" stroke="#3366cc" stroke-width="1" shape-rendering="crispEdges"/>
<rect x="5.5" y="359.5" width="246" height="15" fill="#fff" stroke="#3366cc" stroke-width="1" shape-rendering="crispEdges"/>
<rect x="5.5" y="471.5" width="277" height="15" fill="#fff" stroke="#3366cc" stroke-width="1" shape-rendering="crispEdges"/>
<text transform="translate(0,34) scale(1,1)" x="9.40 13.40 20.40 23.40 30.40 41.40 48.40" y="0" font-size="12" fill="#000" stroke="#000" stroke-width="0.12">(2.1%+)</text>
<text transform="translate(0,34) scale(1,1)" x="55.30 59.30 65.30 72.30 79.30 82.30 89.30" y="0" font-size="12" fill="#000" stroke="#000" stroke-width="0.12">[723.60</text>
<text transform="translate(99.8,34) scale(0.9962,1)" font-size="10.6" fill="#000" stroke="#000" stroke-width="0.12">סגירה:&#x200F;</text>
<text transform="translate(0,34) scale(1,1)" x="136.60 142.60 149.60 156.60 159.60 166.60" y="0" font-size="12" fill="#000" stroke="#000" stroke-width="0.12">711.20</text>
<text transform="translate(177.8,34) scale(0.9399,1)" font-size="10.6" fill="#000" stroke="#000" stroke-width="0.12">נמוך:&#x200F;</text>
<text transform="translate(0,34) scale(1,1)" x="207.10 214.10 220.10 227.10 230.10 237.10" y="0" font-size="12" fill="#000" stroke="#000" stroke-width="0.12">724.00</text>
<text transform="translate(247.8,34) scale(1.0284,1)" font-size="10.6" fill="#000" stroke="#000" stroke-width="0.12">גבוה:&#x200F;</text>
<text transform="translate(0,34) scale(1,1)" x="278.60 284.60 291.60 298.60 301.60 308.60" y="0" font-size="12" fill="#000" stroke="#000" stroke-width="0.12">714.70</text>
<text transform="translate(319.8,34) scale(1.0066,1)" font-size="10.6" fill="#000" stroke="#000" stroke-width="0.12">פתיחה:&#x200F;</text>
<text transform="translate(0,34) scale(1,1)" x="354.30" y="0" font-size="12" fill="#000" stroke="#000" stroke-width="0.12">]</text>
<text transform="translate(360.2,34) scale(0.9464,1)" font-size="10.6" fill="#000" stroke="#000" stroke-width="0.12">א</text>
<text transform="translate(370.2,34) scale(1.0104,1)" font-size="10.6" fill="#000" stroke="#000" stroke-width="0.12">דיסקונט</text>
<text transform="translate(0,371) scale(1,1)" x="8.60 15.60 25.60 31.60 39.60 49.60 57.60 60.60 64.60 67.60 75.60 82.60 85.60 91.60 101.60 108.60 111.60 119.60 122.60 125.60 132.60 135.60 143.60 153.60 161.60 164.60 168.60 175.60 181.60 185.60 189.60 192.60 198.60 205.60 208.60 215.60 221.60 228.60 231.60 238.60 245.60" y="0" font-size="12" fill="#000" stroke="#000" stroke-width="0.12">VOLEMA - Volume with EMA (30) [21,136.73]</text>
<text transform="translate(0,483) scale(1,1)" x="8.60 17.60 25.60 34.60 42.60 46.60 50.60 53.60 63.60 69.60 75.60 78.60 84.60 91.60 94.60 102.60 108.60 115.60 118.60 125.60 132.60 138.60 141.60 150.60 157.60 163.60 169.60 172.60 176.60 184.60 187.60 193.60 196.60 199.60 203.60 210.60 216.60 219.60 226.60 233.60 236.60 242.60 246.60 250.60 253.60 260.60 263.60 269.60 276.60" y="0" font-size="12" fill="#000" stroke="#000" stroke-width="0.12">MACD - Moving Average Conv. Div. (12,26,9) [3.26]</text>
<text transform="translate(0,595.8) scale(1,1)" x="316.40 325.40 331.40 338.40 345.40 351.40 358.40 362.40 366.40 372.40 379.40 385.40 389.40 393.40 396.40" y="0" font-size="12" fill="#333399" stroke="#333399" stroke-width="0.12">Sponser chart -</text>
<text transform="translate(403.5,595.8) scale(0.9128,1)" font-size="12" fill="#333399" stroke="#333399" stroke-width="0.12">תוכנה לניתוח טכני</text>
</svg>
</body></html>
